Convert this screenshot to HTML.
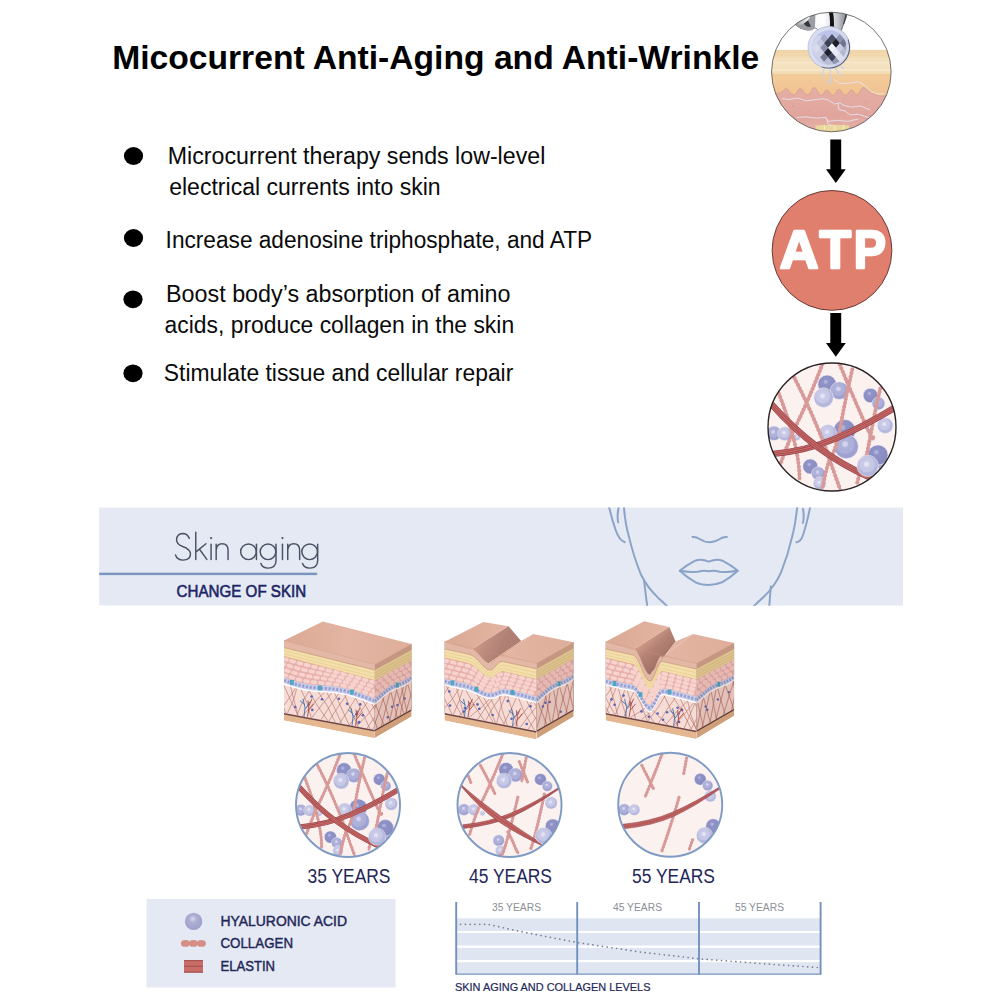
<!DOCTYPE html>
<html>
<head>
<meta charset="utf-8">
<title>Micocurrent Anti-Aging and Anti-Wrinkle</title>
<style>
html,body{margin:0;padding:0;background:#fff;}
body{width:1000px;height:1000px;overflow:hidden;font-family:"Liberation Sans",sans-serif;}
svg{display:block;}
text{font-family:"Liberation Sans",sans-serif;}
</style>
</head>
<body>
<svg width="1000" height="1000" viewBox="0 0 1000 1000">
<rect width="1000" height="1000" fill="#ffffff"/>
<defs>
<radialGradient id="sphL" cx="0.46" cy="0.36" r="0.7"><stop offset="0" stop-color="#d4d6ea"/><stop offset="0.18" stop-color="#c2c4e0"/><stop offset="0.3" stop-color="#adafd4"/><stop offset="1" stop-color="#9b9dc8"/></radialGradient>
<radialGradient id="sD" cx="0.42" cy="0.36" r="0.62"><stop offset="0" stop-color="#b7b9de"/><stop offset="0.18" stop-color="#a3a6d3"/><stop offset="0.2" stop-color="#9093c6"/><stop offset="1" stop-color="#878ac0"/></radialGradient>
<radialGradient id="sM" cx="0.45" cy="0.4" r="0.62"><stop offset="0" stop-color="#dadbf0"/><stop offset="0.2" stop-color="#c6c8e7"/><stop offset="0.23" stop-color="#b0b2da"/><stop offset="0.62" stop-color="#abaed8"/><stop offset="0.66" stop-color="#a0a3d1"/><stop offset="1" stop-color="#9c9fce"/></radialGradient>
<radialGradient id="sL" cx="0.45" cy="0.42" r="0.62"><stop offset="0" stop-color="#e8e9f5"/><stop offset="0.2" stop-color="#dadbf0"/><stop offset="0.23" stop-color="#c9cbe7"/><stop offset="0.6" stop-color="#c4c6e4"/><stop offset="0.64" stop-color="#b6b9de"/><stop offset="1" stop-color="#b1b4db"/></radialGradient>
<clipPath id="cc"><circle cx="500" cy="500" r="457"/></clipPath>
<g id="col35" fill="none" stroke-linecap="round">
<path id="c35" d="M432 50Q340 290 262 450T130 770M232 150Q330 340 405 525T480 720T560 950M120 260Q190 440 230 600T268 880M556 55Q640 260 725 450T792 565M645 88Q600 280 565 470T500 700T430 940M845 225Q810 370 775 560T735 720T680 900"/>
</g>
<clipPath id="c1"><circle cx="495" cy="500" r="460"/></clipPath>
<clipPath id="cball"><circle cx="477" cy="311" r="162"/></clipPath>
<linearGradient id="corn" x1="0" y1="0" x2="0" y2="1"><stop offset="0" stop-color="#f0d3a8"/><stop offset="0.3" stop-color="#f3dcb4"/><stop offset="0.45" stop-color="#f7e8cb"/><stop offset="0.62" stop-color="#f5e1bd"/><stop offset="0.8" stop-color="#f7e9cd"/><stop offset="1" stop-color="#f3dbb0"/></linearGradient>
<linearGradient id="epi" x1="0" y1="0" x2="0" y2="1"><stop offset="0" stop-color="#f3cc9a"/><stop offset="1" stop-color="#f0c08f"/></linearGradient>
<linearGradient id="derm" x1="0" y1="0" x2="0" y2="1"><stop offset="0" stop-color="#e5afa5"/><stop offset="0.6" stop-color="#e1a59e"/><stop offset="1" stop-color="#e8b6ac"/></linearGradient>
<linearGradient id="chrome" x1="0" y1="0" x2="1" y2="0"><stop offset="0" stop-color="#8d9096"/><stop offset="0.25" stop-color="#f4f5f7"/><stop offset="0.55" stop-color="#ffffff"/><stop offset="0.8" stop-color="#c9ccd2"/><stop offset="1" stop-color="#7d8088"/></linearGradient>
<radialGradient id="ballg" cx="0.4" cy="0.45" r="0.65"><stop offset="0" stop-color="#dfe2f3"/><stop offset="0.7" stop-color="#c3c8e6"/><stop offset="1" stop-color="#9ea4c9"/></radialGradient>
<clipPath id="bandclip"><rect x="-2500" y="34" width="5000" height="447"/></clipPath>
<!--DEFS-->
</defs>

<!-- Title -->
<text x="112.2" y="68.5" font-size="33.5" font-weight="bold" fill="#000" textLength="647" lengthAdjust="spacingAndGlyphs">Micocurrent Anti-Aging and Anti-Wrinkle</text>

<!-- Bullets -->
<g fill="#000">
<ellipse cx="133.5" cy="156" rx="9.6" ry="8.9"/>
<ellipse cx="133.5" cy="238" rx="9.6" ry="8.9"/>
<ellipse cx="133" cy="299.3" rx="9.6" ry="8.9"/>
<ellipse cx="133" cy="373.3" rx="9.6" ry="8.9"/>
</g>
<g font-size="23.5" fill="#0a0a0a">
<text x="167.8" y="163.8" textLength="377.5" lengthAdjust="spacingAndGlyphs">Microcurrent therapy sends low-level</text>
<text x="169.2" y="195.3" textLength="271.5" lengthAdjust="spacingAndGlyphs">electrical currents into skin</text>
<text x="165.6" y="247.6" textLength="426.5" lengthAdjust="spacingAndGlyphs">Increase adenosine triphosphate, and ATP</text>
<text x="166" y="302.3" textLength="344.5" lengthAdjust="spacingAndGlyphs">Boost body’s absorption of amino</text>
<text x="164.6" y="332.7" textLength="349.5" lengthAdjust="spacingAndGlyphs">acids, produce collagen in the skin</text>
<text x="163.8" y="380.7" textLength="349.5" lengthAdjust="spacingAndGlyphs">Stimulate tissue and cellular repair</text>
</g>

<!-- Arrows -->
<g fill="#000">
<path d="M830.3 139.5H841.2V169.2H845.8L835.8 182.9L826 169.2H830.3Z"/>
<path d="M830.3 313H841.2V343H845.8L835.8 356.8L826 343H830.3Z"/>
</g>

<!-- ATP circle -->
<circle cx="832" cy="250.4" r="59.9" fill="#e07f6e" stroke="#5a302b" stroke-width="0.9"/>
<g font-size="54.3" font-weight="bold" fill="#fff" stroke="#fff" stroke-width="2.6" stroke-linejoin="round">
<text x="779.8" y="268.1" textLength="38.8" lengthAdjust="spacingAndGlyphs">A</text>
<text x="819.5" y="268.1" textLength="31.6" lengthAdjust="spacingAndGlyphs">T</text>
<text x="853.7" y="268.1" textLength="32.2" lengthAdjust="spacingAndGlyphs">P</text>
</g>

<!-- Circle 1 (roller on skin) -->
<g transform="translate(767 7) scale(0.13)">
<g clip-path="url(#c1)">
<rect x="0" y="0" width="1000" height="1000" fill="#ffffff"/>
<rect x="0" y="330" width="1000" height="190" fill="url(#corn)"/>
<g stroke="#ecd2a3" stroke-width="5" opacity="0.8"><path d="M0 372H1000M0 412H1000M0 470H1000M0 500H1000"/></g>
<rect x="0" y="515" width="1000" height="200" fill="url(#epi)"/>
<path d="M0 690L60 668Q110 665 130 640Q150 612 172 650Q200 700 228 660Q250 600 280 650Q310 705 340 650Q362 585 392 655Q415 705 440 660Q460 615 482 660Q505 705 532 655Q555 610 578 658Q600 702 628 660Q650 615 670 660Q692 700 715 650Q738 595 768 640Q800 665 850 680Q900 700 1000 660V1000H0Z" fill="url(#derm)"/>
<path d="M0 690L60 668Q110 665 130 640Q150 612 172 650Q200 700 228 660Q250 600 280 650Q310 705 340 650Q362 585 392 655Q415 705 440 660Q460 615 482 660Q505 705 532 655Q555 610 578 658Q600 702 628 660Q650 615 670 660Q692 700 715 650Q738 595 768 640Q800 665 850 680Q900 700 1000 660" fill="none" stroke="#d99a8c" stroke-width="6"/>
<g fill="#d4908c" opacity="0.6"><circle cx="200" cy="760" r="7"/><circle cx="330" cy="800" r="6"/><circle cx="520" cy="740" r="7"/><circle cx="640" cy="790" r="6"/><circle cx="760" cy="730" r="7"/><circle cx="420" cy="840" r="6"/><circle cx="270" cy="720" r="5"/><circle cx="700" cy="840" r="6"/></g>
<path d="M372 912Q500 900 632 912L625 1000H380Z" fill="#ebe09c" opacity="0.85"/>
<path d="M440 908L443 945M520 910L522 950M590 906L588 940" stroke="#f5ecc0" stroke-width="8"/>
<g fill="none" stroke="#e4e6f6" stroke-width="7" stroke-linejoin="round" stroke-linecap="round" opacity="0.95">
<path d="M120 705L170 712L235 700L300 722L380 712L430 706L470 715L520 745L560 738L600 760L650 770L720 762L790 790"/>
<path d="M545 745L555 790L600 800L640 830L700 825L780 850"/>
<path d="M230 850L300 845L380 855L450 850L470 880L540 872L620 880L700 862"/>
<path d="M455 850L470 900L500 915"/>
<path d="M520 560L560 590L640 585L700 575L750 600L800 650L850 670L900 665"/>
</g>
<g fill="none" stroke="#c5d0ef" stroke-width="11" stroke-linecap="round" opacity="0.8">
<path d="M445 470L425 505L430 540M488 475L482 515L498 552L492 590M528 472L545 505L572 530M560 455L592 472M474 558L460 592"/>
</g>
<!-- holder -->
<path d="M215 132Q300 70 380 30L620 30Q612 90 590 130Q575 170 572 182L400 186Q380 160 368 160Q345 182 308 178Q250 170 215 132Z" fill="url(#chrome)" stroke="#3c3d42" stroke-width="5"/>
<path d="M215 132Q262 150 300 118Q330 90 345 50L372 45Q372 110 368 160Q345 182 308 178Q250 170 215 132Z" fill="#9a9da4"/>
<path d="M283 126L316 104L338 150Q305 160 283 126Z" fill="#34363c"/>
<path d="M474 30Q492 100 480 186L514 186Q520 100 506 30Z" fill="#121317"/>
<path d="M590 130Q600 90 612 40" fill="none" stroke="#2a2b30" stroke-width="7"/>
<!-- ball -->
<circle cx="477" cy="311" r="162" fill="url(#ballg)"/>
<g clip-path="url(#cball)">
<path d="M370 215L470 178L580 195L620 250L570 222L480 232Z" fill="#b4bdea" opacity="0.7"/>
<path d="M440 207L471 243L440 279L409 243Z" fill="#a7acc6"/><path d="M500 207L531 243L500 279L469 243Z" fill="#4a4e66"/><path d="M560 207L591 243L560 279L529 243Z" fill="#8d92ab"/><path d="M410 243L441 279L410 315L379 279Z" fill="#c5c9df"/><path d="M470 243L501 279L470 315L439 279Z" fill="#3c4055"/><path d="M530 243L561 279L530 315L499 279Z" fill="#1d1f2b"/><path d="M590 243L621 279L590 315L559 279Z" fill="#6f748e"/><path d="M380 279L411 315L380 351L349 315Z" fill="#d9dcee"/><path d="M440 279L471 315L440 351L409 315Z" fill="#8a8fa9"/><path d="M500 279L531 315L500 351L469 315Z" fill="#f2f3fa"/><path d="M560 279L591 315L560 351L529 315Z" fill="#c9cce0"/><path d="M620 279L651 315L620 351L589 315Z" fill="#9fa4be"/><path d="M410 315L441 351L410 387L379 351Z" fill="#cfd2e5"/><path d="M470 315L501 351L470 387L439 351Z" fill="#1f2233"/><path d="M530 315L561 351L530 387L499 351Z" fill="#e8eaf5"/><path d="M590 315L621 351L590 387L559 351Z" fill="#b4b8d0"/><path d="M440 351L471 387L440 423L409 387Z" fill="#777c96"/><path d="M500 351L531 387L500 423L469 387Z" fill="#3f4359"/><path d="M560 351L591 387L560 423L529 387Z" fill="#dcdfee"/><path d="M470 387L501 423L470 459L439 423Z" fill="#b9bdd3"/><path d="M530 387L561 423L530 459L499 423Z" fill="#9096b0"/>
<circle cx="477" cy="311" r="150" fill="none" stroke="#dfe2f3" stroke-width="34" opacity="0.75"/>
<path d="M625 250A162 162 0 0 1 420 462" fill="none" stroke="#34374c" stroke-width="10" opacity="0.85"/>
</g>
<circle cx="477" cy="311" r="162" fill="none" stroke="#9096b8" stroke-width="4" opacity="0.7"/>
</g>
<circle cx="495" cy="500" r="460" fill="none" stroke="#4d4d4d" stroke-width="6"/>
</g>

<!-- Circle 3 (collagen) -->
<g transform="translate(762 357) scale(0.14)"><g clip-path="url(#cc)"><circle cx="500" cy="500" r="457" fill="#fbf2f0"/><circle cx="465" cy="195" r="66" fill="url(#sD)" stroke="#f6f1f6" stroke-width="4"/><circle cx="552" cy="240" r="64" fill="url(#sM)" stroke="#f6f1f6" stroke-width="4"/><circle cx="440" cy="290" r="70" fill="url(#sL)" stroke="#f6f1f6" stroke-width="4"/><circle cx="775" cy="275" r="52" fill="url(#sD)" stroke="#f6f1f6" stroke-width="4"/><circle cx="832" cy="332" r="46" fill="url(#sM)" stroke="#f6f1f6" stroke-width="4"/><circle cx="880" cy="490" r="56" fill="url(#sL)" stroke="#f6f1f6" stroke-width="4"/><circle cx="85" cy="545" r="52" fill="url(#sM)" stroke="#f6f1f6" stroke-width="4"/><circle cx="162" cy="548" r="50" fill="url(#sL)" stroke="#f6f1f6" stroke-width="4"/><circle cx="250" cy="572" r="24" fill="url(#sL)" stroke="#f6f1f6" stroke-width="4"/><circle cx="590" cy="525" r="78" fill="url(#sD)" stroke="#f6f1f6" stroke-width="4"/><circle cx="470" cy="545" r="62" fill="url(#sL)" stroke="#f6f1f6" stroke-width="4"/><circle cx="602" cy="640" r="86" fill="url(#sM)" stroke="#f6f1f6" stroke-width="4"/><circle cx="870" cy="765" r="50" fill="url(#sM)" stroke="#f6f1f6" stroke-width="4"/><circle cx="828" cy="700" r="72" fill="url(#sD)" stroke="#f6f1f6" stroke-width="4"/><circle cx="345" cy="782" r="54" fill="url(#sD)" stroke="#f6f1f6" stroke-width="4"/><circle cx="402" cy="832" r="48" fill="url(#sM)" stroke="#f6f1f6" stroke-width="4"/><circle cx="412" cy="902" r="46" fill="url(#sL)" stroke="#f6f1f6" stroke-width="4"/><path d="M432 50Q340 290 262 450T130 770M232 150Q330 340 405 525T480 720T560 950M120 260Q190 440 230 600T268 880M556 55Q640 260 725 450T792 565M645 88Q600 280 565 470T500 700T430 940M845 225Q810 370 775 560T735 720T680 900" fill="none" stroke="#d89a99" stroke-width="19"/><path d="M432 50Q340 290 262 450T130 770M232 150Q330 340 405 525T480 720T560 950M120 260Q190 440 230 600T268 880M556 55Q640 260 725 450T792 565M645 88Q600 280 565 470T500 700T430 940M845 225Q810 370 775 560T735 720T680 900" fill="none" stroke="#d89a99" stroke-width="29" stroke-linecap="round" stroke-dasharray="0.1 27"/><path d="M80 692Q320 670 520 585T960 355" fill="none" stroke="#8e3c46" stroke-width="46.0"/><path d="M80 692Q320 670 520 585T960 355" fill="none" stroke="#c26461" stroke-width="38.0"/><path d="M80 692Q320 670 520 585T960 355" fill="none" stroke="#96434a" stroke-width="16.0"/><path d="M80 692Q320 670 520 585T960 355" fill="none" stroke="#c96c67" stroke-width="9.0"/><path d="M60 330Q230 520 400 645T780 865" fill="none" stroke="#8e3c46" stroke-width="46.0"/><path d="M60 330Q230 520 400 645T780 865" fill="none" stroke="#c26461" stroke-width="38.0"/><path d="M60 330Q230 520 400 645T780 865" fill="none" stroke="#96434a" stroke-width="16.0"/><path d="M60 330Q230 520 400 645T780 865" fill="none" stroke="#c96c67" stroke-width="9.0"/><circle cx="755" cy="778" r="76" fill="url(#sL)" stroke="#f6f1f6" stroke-width="4"/></g><circle cx="500" cy="500" r="457" fill="none" stroke="#2a2326" stroke-width="10"/></g>


<!-- Band -->
<rect x="99.2" y="507.5" width="803.8" height="98" fill="#e4e9f3"/>
<!-- Face outline -->
<g transform="translate(590 500) scale(0.22)" fill="none" stroke="#8ba3c7" stroke-width="9" stroke-linecap="round" stroke-linejoin="round" clip-path="url(#bandclip)">
<path d="M86 30Q100 90 118 140Q132 182 158 192"/>
<path d="M130 36Q122 70 128 102"/>
<path d="M154 30Q160 110 178 170Q196 250 232 340Q262 400 310 445Q330 462 350 482"/>
<path d="M246 368Q252 420 260 482"/>
<path d="M942 30Q934 110 918 170Q900 250 868 330Q838 395 790 440Q768 460 745 482"/>
<path d="M1000 36Q985 110 968 160Q958 190 938 192"/>
<path d="M968 40Q975 70 968 104"/>
<path d="M822 392Q818 440 815 482"/>
<path d="M466 168Q482 166 496 176Q520 192 546 192Q572 190 592 176Q606 166 622 168"/>
<path d="M408 322Q440 296 478 276Q505 266 540 280Q575 266 602 276Q640 296 672 322Q640 352 600 374Q570 386 540 386Q505 386 480 374Q440 352 408 322Z"/>
<path d="M410 322Q450 330 490 326Q520 318 540 324Q562 318 590 326Q630 330 670 322"/>
</g>

<!-- "Skin aging" thin lettering -->
<g transform="translate(165 520) scale(0.17)" fill="none" stroke="#4a5266" stroke-width="8.6" stroke-linecap="round" stroke-linejoin="round">
<path d="M143 108Q132 80 103 80Q70 82 68 116Q68 142 104 156Q148 172 150 198Q150 234 106 236Q70 234 62 206"/>
<path d="M181 72V232M241 140L184 186M203 172L246 232"/>
<path d="M271 142V232"/>
<path d="M301 142V232M301 178Q304 140 336 140Q371 140 371 178V232"/>
<circle cx="491" cy="187" r="46"/><path d="M538 142V232"/>
<circle cx="606" cy="187" r="46"/><path d="M653 142V240Q652 282 606 283Q572 282 564 256"/>
<path d="M691 142V232"/>
<path d="M722 142V232M722 178Q725 140 757 140Q792 140 792 178V232"/>
<circle cx="851" cy="187" r="46"/><path d="M898 142V240Q897 282 851 283Q817 282 809 256"/>
<g fill="#4d5567" stroke="none"><circle cx="271" cy="106" r="6.5"/><circle cx="691" cy="106" r="6.5"/></g>
</g>

<rect x="99.2" y="572.7" width="218" height="2.4" fill="#7a95bf"/>
<text x="176.6" y="597.2" font-size="17.2" fill="#1c2466" stroke="#1c2466" stroke-width="0.6" textLength="129.6" lengthAdjust="spacingAndGlyphs">CHANGE OF SKIN</text>

<!--BLOCKS_START--><!-- Skin blocks -->
<g id="b1"><clipPath id="clipD1"><path d="M284 684.5L286 685.2L288 685.9L290 686.6L292 687.3L294 687.9L296 688.5L298 689L300 689.5L302 690L304 690.4L306 690.7L308 691L310 691.3L312 691.6L314 691.8L316 691.9L318 692.1L320 692.2L322 692.3L324 692.5L326 692.6L328 692.7L330 692.9L332 693L334 693.2L336 693.5L338 693.8L340 694.1L342 694.4L344 694.8L346 695.3L348 695.8L350 696.3L352 696.9L354 697.5L356 698.2L358 698.8L360 699.6L362 700.3L364 701L366 701.8L368 702.6L370 703.3L372 704.1L374 704.8L374.8 705.1L374.8 730L284 712.9Z" fill="#000" /></clipPath>
<clipPath id="clipF1"><path d="M284 640.4L286 640.9L288 641.5L290 642L292 642.5L294 643L296 643.6L298 644.1L300 644.6L302 645.2L304 645.7L306 646.2L308 646.7L310 647.3L312 647.8L314 648.3L316 648.9L318 649.4L320 649.9L322 650.4L324 651L326 651.5L328 652L330 652.6L332 653.1L334 653.6L336 654.1L338 654.7L340 655.2L342 655.7L344 656.3L346 656.8L348 657.3L350 657.8L352 658.4L354 658.9L356 659.4L358 660L360 660.5L362 661L364 661.5L366 662.1L368 662.6L370 663.1L372 663.7L374 664.2L374.8 664.4L374.8 738.3L284 720.4Z" fill="#000" /></clipPath>
<g clip-path="url(#clipF1)">
<path d="M284 640.4L374.8 664.4L374.8 738.3L284 720.4Z" fill="#e4b791" />
<path d="M284 600.4L374.8 600.4L374.8 731.5L284 714.4Z" fill="#6d4545" />
<path d="M284 600.4L374.8 600.4L374.8 730L284 712.9Z" fill="#f5dcd7" />
<path d="M284 600.4L374.8 600.4L374.8 705.1L374 704.8L372 704.1L370 703.3L368 702.6L366 701.8L364 701L362 700.3L360 699.6L358 698.8L356 698.2L354 697.5L352 696.9L350 696.3L348 695.8L346 695.3L344 694.8L342 694.4L340 694.1L338 693.8L336 693.5L334 693.2L332 693L330 692.9L328 692.7L326 692.6L324 692.5L322 692.3L320 692.2L318 692.1L316 691.9L314 691.8L312 691.6L310 691.3L308 691L306 690.7L304 690.4L302 690L300 689.5L298 689L296 688.5L294 687.9L292 687.3L290 686.6L288 685.9L286 685.2L284 684.5Z" fill="#ffffff" />
<path d="M284 600.4L374.8 600.4L374.8 703.7L374 703.4L372 702.7L370 701.9L368 701.2L366 700.4L364 699.6L362 698.9L360 698.2L358 697.4L356 696.8L354 696.1L352 695.5L350 694.9L348 694.4L346 693.9L344 693.4L342 693L340 692.7L338 692.4L336 692.1L334 691.8L332 691.6L330 691.5L328 691.3L326 691.2L324 691.1L322 690.9L320 690.8L318 690.7L316 690.5L314 690.4L312 690.2L310 689.9L308 689.6L306 689.3L304 689L302 688.6L300 688.1L298 687.6L296 687.1L294 686.5L292 685.9L290 685.2L288 684.5L286 683.8L284 683.1Z" fill="#c9cfea" />
<path d="M284 600.4L374.8 600.4L374.8 698.2L374 697.9L372 697.2L370 696.4L368 695.7L366 694.9L364 694.1L362 693.4L360 692.7L358 691.9L356 691.3L354 690.6L352 690L350 689.4L348 688.9L346 688.4L344 687.9L342 687.5L340 687.2L338 686.9L336 686.6L334 686.3L332 686.1L330 686L328 685.8L326 685.7L324 685.6L322 685.4L320 685.3L318 685.2L316 685L314 684.9L312 684.7L310 684.4L308 684.1L306 683.8L304 683.5L302 683.1L300 682.6L298 682.1L296 681.6L294 681L292 680.4L290 679.7L288 679L286 678.3L284 677.6Z" fill="#e8b0ad" />
<path d="M284 600.4L374.8 600.4L374.8 680.4L374 680.2L372 679.7L370 679.1L368 678.6L366 678.1L364 677.5L362 677L360 676.5L358 676L356 675.4L354 674.9L352 674.4L350 673.8L348 673.3L346 672.8L344 672.3L342 671.7L340 671.2L338 670.7L336 670.1L334 669.6L332 669.1L330 668.6L328 668L326 667.5L324 667L322 666.4L320 665.9L318 665.4L316 664.9L314 664.3L312 663.8L310 663.3L308 662.7L306 662.2L304 661.7L302 661.2L300 660.6L298 660.1L296 659.6L294 659L292 658.5L290 658L288 657.5L286 656.9L284 656.4Z" fill="#f3dfab" />
<path d="M284 600.4L374.8 600.4L374.8 670L374 669.8L372 669.3L370 668.8L368 668.3L366 667.8L364 667.3L362 666.8L360 666.3L358 665.9L356 665.4L354 664.9L352 664.4L350 663.9L348 663.4L346 662.9L344 662.4L342 661.9L340 661.4L338 660.9L336 660.4L334 659.9L332 659.4L330 658.9L328 658.5L326 658L324 657.5L322 657L320 656.5L318 656L316 655.5L314 655L312 654.5L310 654L308 653.5L306 653L304 652.5L302 652L300 651.5L298 651.1L296 650.6L294 650.1L292 649.6L290 649.1L288 648.6L286 648.1L284 647.6Z" fill="#e4b8a6" />
<path d="M284 647.6L286 648.1L288 648.6L290 649.1L292 649.6L294 650.1L296 650.6L298 651.1L300 651.5L302 652L304 652.5L306 653L308 653.5L310 654L312 654.5L314 655L316 655.5L318 656L320 656.5L322 657L324 657.5L326 658L328 658.5L330 658.9L332 659.4L334 659.9L336 660.4L338 660.9L340 661.4L342 661.9L344 662.4L346 662.9L348 663.4L350 663.9L352 664.4L354 664.9L356 665.4L358 665.9L360 666.3L362 666.8L364 667.3L366 667.8L368 668.3L370 668.8L372 669.3L374 669.8L374.8 670" fill="none" stroke="#c08c70" stroke-width="0.6" />
<path d="M284 650.7L286 651.2L288 651.7L290 652.2L292 652.7L294 653.2L296 653.7L298 654.2L300 654.7L302 655.2L304 655.7L306 656.2L308 656.7L310 657.3L312 657.8L314 658.3L316 658.8L318 659.3L320 659.8L322 660.3L324 660.8L326 661.3L328 661.8L330 662.3L332 662.8L334 663.3L336 663.8L338 664.3L340 664.8L342 665.3L344 665.9L346 666.4L348 666.9L350 667.4L352 667.9L354 668.4L356 668.9L358 669.4L360 669.9L362 670.4L364 670.9L366 671.4L368 671.9L370 672.4L372 672.9L374 673.4L374.8 673.6" fill="none" stroke="#e2c385" stroke-width="0.5" />
<path d="M284 653.8L286 654.3L288 654.8L290 655.3L292 655.8L294 656.4L296 656.9L298 657.4L300 657.9L302 658.4L304 658.9L306 659.5L308 660L310 660.5L312 661L314 661.5L316 662L318 662.6L320 663.1L322 663.6L324 664.1L326 664.6L328 665.2L330 665.7L332 666.2L334 666.7L336 667.2L338 667.7L340 668.3L342 668.8L344 669.3L346 669.8L348 670.3L350 670.9L352 671.4L354 671.9L356 672.4L358 672.9L360 673.4L362 674L364 674.5L366 675L368 675.5L370 676L372 676.6L374 677.1L374.8 677.3" fill="none" stroke="#e2c385" stroke-width="0.5" />
<path d="M284 656.4L286 656.9L288 657.5L290 658L292 658.5L294 659L296 659.6L298 660.1L300 660.6L302 661.2L304 661.7L306 662.2L308 662.7L310 663.3L312 663.8L314 664.3L316 664.9L318 665.4L320 665.9L322 666.4L324 667L326 667.5L328 668L330 668.6L332 669.1L334 669.6L336 670.1L338 670.7L340 671.2L342 671.7L344 672.3L346 672.8L348 673.3L350 673.8L352 674.4L354 674.9L356 675.4L358 676L360 676.5L362 677L364 677.5L366 678.1L368 678.6L370 679.1L372 679.7L374 680.2L374.8 680.4" fill="none" stroke="#d9a070" stroke-width="0.5" />
<path d="M284 659L286 659.6L288 660.2L290 660.7L292 661.2L294 661.8L296 662.3L298 662.9L300 663.4L302 663.9L304 664.4L306 664.9L308 665.4L310 665.9L312 666.4L314 666.9L316 667.4L318 667.9L320 668.3L322 668.8L324 669.3L326 669.8L328 670.3L330 670.7L332 671.2L334 671.7L336 672.2L338 672.7L340 673.2L342 673.7L344 674.2L346 674.7L348 675.3L350 675.8L352 676.3L354 676.9L356 677.4L358 678L360 678.5L362 679.1L364 679.6L366 680.2L368 680.7L370 681.3L372 681.8L374 682.4L374.8 682.6" fill="none" stroke="#f7d3ce" stroke-width="3.7" stroke-linecap="round" stroke-dasharray="2.9 4.6" stroke-dashoffset="0"/>
<path d="M284 664.3L286 664.9L288 665.5L290 666.1L292 666.7L294 667.3L296 667.8L298 668.4L300 668.9L302 669.4L304 669.9L306 670.3L308 670.8L310 671.2L312 671.6L314 672L316 672.4L318 672.8L320 673.2L322 673.6L324 673.9L326 674.3L328 674.7L330 675.1L332 675.5L334 675.9L336 676.3L338 676.7L340 677.2L342 677.7L344 678.1L346 678.6L348 679.1L350 679.7L352 680.2L354 680.8L356 681.4L358 682L360 682.6L362 683.2L364 683.8L366 684.4L368 685L370 685.6L372 686.2L374 686.8L374.8 687.1" fill="none" stroke="#f7d3ce" stroke-width="3.7" stroke-linecap="round" stroke-dasharray="2.9 4.6" stroke-dashoffset="2.7"/>
<path d="M284 669.6L286 670.3L288 670.9L290 671.6L292 672.2L294 672.8L296 673.3L298 673.9L300 674.4L302 674.8L304 675.3L306 675.7L308 676.1L310 676.5L312 676.8L314 677.2L316 677.5L318 677.8L320 678L322 678.3L324 678.6L326 678.9L328 679.2L330 679.4L332 679.8L334 680.1L336 680.4L338 680.8L340 681.2L342 681.6L344 682L346 682.5L348 683L350 683.6L352 684.1L354 684.7L356 685.3L358 686L360 686.6L362 687.3L364 687.9L366 688.6L368 689.3L370 689.9L372 690.6L374 691.2L374.8 691.5" fill="none" stroke="#f7d3ce" stroke-width="3.7" stroke-linecap="round" stroke-dasharray="2.9 4.6" stroke-dashoffset="5.4"/>
<path d="M284 674.9L286 675.6L288 676.3L290 677L292 677.6L294 678.2L296 678.8L298 679.4L300 679.9L302 680.3L304 680.7L306 681.1L308 681.5L310 681.8L312 682L314 682.3L316 682.5L318 682.7L320 682.9L322 683.1L324 683.2L326 683.4L328 683.6L330 683.8L332 684L334 684.3L336 684.5L338 684.8L340 685.2L342 685.5L344 686L346 686.4L348 686.9L350 687.5L352 688L354 688.6L356 689.3L358 689.9L360 690.6L362 691.3L364 692.1L366 692.8L368 693.5L370 694.3L372 695L374 695.7L374.8 695.9" fill="none" stroke="#f7d3ce" stroke-width="3.7" stroke-linecap="round" stroke-dasharray="2.9 4.6" stroke-dashoffset="8.1"/>
<path d="M284 680.3L286 681L288 681.8L290 682.4L292 683.1L294 683.7L296 684.3L298 684.9L300 685.4L302 685.8L304 686.2L306 686.6L308 686.9L310 687.2L312 687.4L314 687.6L316 687.8L318 687.9L320 688.1L322 688.2L324 688.3L326 688.4L328 688.6L330 688.7L332 688.9L334 689.1L336 689.3L338 689.6L340 689.9L342 690.3L344 690.7L346 691.1L348 691.6L350 692.1L352 692.7L354 693.3L356 694L358 694.7L360 695.4L362 696.1L364 696.9L366 697.7L368 698.4L370 699.2L372 699.9L374 700.6L374.8 700.9" fill="none" stroke="#989ed0" stroke-width="3" stroke-dasharray="2.2 1.6"/>
<rect x="290" y="679.9" width="3.8" height="5" fill="#4fa6c2"/>
<rect x="318" y="685.4" width="3.8" height="5" fill="#4fa6c2"/>
<rect x="350" y="689.6" width="3.8" height="5" fill="#4fa6c2"/>
<path d="M264 682.5Q270.7 697.7 274.9 712.9M273.8 682.5Q269.5 697.7 260.7 712.9M273.2 682.5Q280.7 697.7 285.6 712.9M284.4 682.5Q279.4 697.7 269.4 712.9M282.6 682.5Q289.7 699 298.1 715.5M296.6 686.5Q289.1 699.7 277.9 712.9M289.9 683.9Q293.6 699.7 298 715.5M297.2 686.5Q294.9 699.9 287.4 713.3M300.2 687.5Q308 702.7 311.3 717.8M310.2 689.3Q301.1 702.2 296.9 715.2M308.1 689Q315.9 705.1 328.1 721.2M326.1 690.6Q312.4 703.4 302.2 716.3M317 689.9Q328.8 706.1 335.1 722.3M333.3 691Q322.1 704.4 311.6 717.8M325.9 690.5Q334.5 707 341.6 723.5M340 692.1Q329.4 705.9 321.2 719.7M333.5 691Q341.4 708 349.1 725M347.6 693.3Q337.5 707.2 328.8 721.2M344 692.8Q350.2 709.8 358.3 726.8M356.9 696.2Q348.8 709.6 339.7 723.1M354 694.9Q362.5 712 370 729.1M368.4 700.6Q361.2 712.8 349.2 725M361.2 697.6Q370.9 713.8 378.3 730M376.6 703.1Q368.9 714.8 356.1 726.5M370.6 701.3Q378.5 715.7 382.2 730M381 703.1Q377 715.7 367.1 728.4M377.7 703.1Q387.9 716.5 396.1 730M394.3 703.1Q381.2 716.3 372.2 729.5" fill="none" stroke="#b56f62" stroke-width="0.6" clip-path="url(#clipD1)"/>
<circle cx="359.3" cy="722.1" r="1.3" fill="#5a62b4"/>
<circle cx="362.9" cy="715.3" r="1.3" fill="#5a62b4"/>
<circle cx="347.1" cy="703.8" r="1.3" fill="#5a62b4"/>
<circle cx="356.9" cy="713.8" r="1.3" fill="#5a62b4"/>
<circle cx="311.6" cy="696.5" r="1.3" fill="#5a62b4"/>
<circle cx="358.7" cy="722.6" r="1.3" fill="#5a62b4"/>
<circle cx="295.3" cy="707" r="1.3" fill="#5a62b4"/>
<circle cx="322" cy="699.2" r="1.3" fill="#5a62b4"/>
<circle cx="312.3" cy="709.9" r="1.3" fill="#5a62b4"/>
<circle cx="360.3" cy="704.4" r="1.3" fill="#5a62b4"/>
<circle cx="338.9" cy="698.7" r="1.3" fill="#5a62b4"/>
<path d="M304 716.7Q306.5 707.7 303 698.7M305.5 708.7L310 701.7M304.8 704.7L300 700.7" fill="none" stroke="#3f6fb0" stroke-width="0.9"/>
<path d="M307.5 716.7Q310 708.7 308 700.7M309 709.7L314 703.7M309 705.7L312 698.7" fill="none" stroke="#a8443c" stroke-width="0.9"/>
<path d="M352 725.7Q354.5 716.7 351 707.7M353.5 717.7L358 710.7M352.8 713.7L348 709.7" fill="none" stroke="#3f6fb0" stroke-width="0.9"/>
<path d="M355.5 725.7Q358 717.7 356 709.7M357 718.7L362 712.7M357 714.7L360 707.7" fill="none" stroke="#a8443c" stroke-width="0.9"/>
</g>
<clipPath id="clipR1"><path d="M374.8 664.4L411.6 644L411.6 716.4L374.8 738Z" fill="#000" /></clipPath>
<clipPath id="clipDR1"><path d="M374.8 705.1L376.8 703.4L378.8 701.6L380.8 699.8L382.8 698L384.8 696.3L386.8 694.7L388.8 693.2L390.8 692L392.8 690.9L394.8 690L396.8 689.2L398.8 688.4L400.8 687.7L402.8 686.9L404.8 685.9L406.8 684.8L408.8 683.6L410.8 682.1L411.6 681.5L411.6 709.3L374.8 729.7Z" fill="#000" /></clipPath>
<g clip-path="url(#clipR1)">
<path d="M374.8 664.4L411.6 644L411.6 716.4L374.8 738Z" fill="#d9a981" />
<path d="M374.8 604L411.6 604L411.6 710.8L374.8 731.2Z" fill="#5e3b3b" />
<path d="M374.8 604L411.6 604L411.6 709.3L374.8 729.7Z" fill="#efcfc8" />
<path d="M374.8 604L411.6 604L411.6 681.5L410.8 682.1L408.8 683.6L406.8 684.8L404.8 685.9L402.8 686.9L400.8 687.7L398.8 688.4L396.8 689.2L394.8 690L392.8 690.9L390.8 692L388.8 693.2L386.8 694.7L384.8 696.3L382.8 698L380.8 699.8L378.8 701.6L376.8 703.4L374.8 705.1Z" fill="#fbf6f6" />
<path d="M374.8 604L411.6 604L411.6 680.3L410.8 680.9L408.8 682.4L406.8 683.6L404.8 684.7L402.8 685.6L400.8 686.4L398.8 687.2L396.8 687.9L394.8 688.7L392.8 689.6L390.8 690.7L388.8 691.9L386.8 693.3L384.8 694.9L382.8 696.7L380.8 698.5L378.8 700.3L376.8 702L374.8 703.7Z" fill="#c2c8e6" />
<path d="M374.8 604L411.6 604L411.6 675.3L410.8 675.9L408.8 677.3L406.8 678.6L404.8 679.6L402.8 680.5L400.8 681.3L398.8 682L396.8 682.7L394.8 683.5L392.8 684.3L390.8 685.4L388.8 686.6L386.8 688L384.8 689.6L382.8 691.3L380.8 693L378.8 694.8L376.8 696.6L374.8 698.2Z" fill="#e2a8a5" />
<path d="M374.8 604L411.6 604L411.6 660.5L374.8 680.4Z" fill="#e8d09a" />
<path d="M374.8 604L411.6 604L411.6 650L374.8 670Z" fill="#cfa08a" />
<path d="M374.8 673.1L411.6 653.1" fill="none" stroke="#d2b070" stroke-width="0.5" />
<path d="M374.8 675.7L411.6 655.8" fill="none" stroke="#d2b070" stroke-width="0.5" />
<path d="M374.8 678.3L411.6 658.4" fill="none" stroke="#d2b070" stroke-width="0.5" />
<path d="M374.8 683.4L376.8 682.2L378.8 681L380.8 679.8L382.8 678.6L384.8 677.4L386.8 676.3L388.8 675.1L390.8 674L392.8 672.9L394.8 671.9L396.8 670.9L398.8 669.8L400.8 668.8L402.8 667.8L404.8 666.7L406.8 665.7L408.8 664.6L410.8 663.4L411.6 663" fill="none" stroke="#f2c6c1" stroke-width="4.1" stroke-linecap="round" stroke-dasharray="1.1 5" stroke-dashoffset="0"/>
<path d="M374.8 689.3L376.8 687.9L378.8 686.5L380.8 685.1L382.8 683.7L384.8 682.3L386.8 681L388.8 679.7L390.8 678.6L392.8 677.5L394.8 676.5L396.8 675.6L398.8 674.7L400.8 673.8L402.8 672.9L404.8 671.9L406.8 670.8L408.8 669.7L410.8 668.4L411.6 667.9" fill="none" stroke="#f2c6c1" stroke-width="4.1" stroke-linecap="round" stroke-dasharray="1.1 5" stroke-dashoffset="2.1"/>
<path d="M374.8 695.2L376.8 693.7L378.8 692.1L380.8 690.4L382.8 688.7L384.8 687.1L386.8 685.7L388.8 684.3L390.8 683.1L392.8 682.1L394.8 681.1L396.8 680.3L398.8 679.6L400.8 678.8L402.8 678L404.8 677L406.8 676L408.8 674.8L410.8 673.4L411.6 672.8" fill="none" stroke="#f2c6c1" stroke-width="4.1" stroke-linecap="round" stroke-dasharray="1.1 5" stroke-dashoffset="4.2"/>
<path d="M374.8 700.9L376.8 699.3L378.8 697.5L380.8 695.7L382.8 694L384.8 692.3L386.8 690.7L388.8 689.3L390.8 688L392.8 687L394.8 686.1L396.8 685.3L398.8 684.6L400.8 683.9L402.8 683.1L404.8 682.2L406.8 681.1L408.8 679.8L410.8 678.4L411.6 677.8" fill="none" stroke="#9096c8" stroke-width="2.8" stroke-dasharray="1.7 1.3"/>
<rect x="395.8" y="682.7" width="3" height="4.8" fill="#4a9dba"/>
<path d="M368.8 703.1L377.4 728.6M377.4 701.4L367.1 729.7M374.8 703.1L384.2 725.3M384.2 696L372.9 729.7M382.7 697.8L390.3 721.9M390.3 691.2L381.2 726.4M390.7 691.2L397.3 717.5M397.3 687.2L389.4 721.9M396 688L404 714.2M404 684.9L394.4 719.7M401.1 685.7L407 712M407 682.8L399.9 716.4M407.3 682.8L415.3 709.3M415.3 679.5L405.7 713.1M412.7 680.1L418 709.3M418 679.5L411.7 709.7" fill="none" stroke="#a8584f" stroke-width="0.6" clip-path="url(#clipDR1)"/>
<circle cx="387.8" cy="717.3" r="1.2" fill="#5a62b4"/>
<circle cx="404.6" cy="698.4" r="1.2" fill="#5a62b4"/>
<circle cx="392.1" cy="706.8" r="1.2" fill="#5a62b4"/>
<circle cx="397.3" cy="705.1" r="1.2" fill="#5a62b4"/>
<path d="M374.8 664.4L411.6 644L411.6 716.4L374.8 738Z" fill="#7a4a30" opacity="0.10"/>
</g>
<linearGradient id="top1" gradientUnits="userSpaceOnUse" x1="284" y1="640.4" x2="411.6" y2="644"><stop offset="0" stop-color="#dba995"/><stop offset="0.5" stop-color="#e3b5a2"/><stop offset="1" stop-color="#deae9a"/></linearGradient>
<path d="M284 640.4L322.8 621.5L411.6 644L374.8 664.4Z" fill="url(#top1)" />
<path d="M284 640.4L374.8 664.4L411.6 644" fill="none" stroke="#c9937c" stroke-width="0.5" opacity="0.7"/></g>
<g id="b2"><clipPath id="clipD2"><path d="M444.5 685.5L446.5 686.1L448.5 686.6L450.5 687.1L452.5 687.6L454.5 688L456.5 688.5L458.5 688.9L460.5 689.3L462.5 689.7L464.5 690.1L466.5 690.6L468.5 691.1L470.5 691.8L472.5 692.6L474.5 693.5L476.5 694.4L478.5 695.3L480.5 696.3L482.5 697.1L484.5 697.9L486.5 698.5L488.5 698.9L490.5 699.2L492.5 699L494.5 698.4L496.5 697.7L498.5 696.8L500.5 696.1L502.5 695.7L504.5 695.6L506.5 695.9L508.5 696.3L510.5 696.7L512.5 697.1L514.5 697.6L516.5 698.1L518.5 698.6L520.5 699.1L522.5 699.6L524.5 700.1L526.5 700.7L528.5 701.2L530.5 701.7L532.5 702.3L534.5 702.8L536.5 703.3L536.6 703.3L536.6 731.2L444.5 712.9Z" fill="#000" /></clipPath>
<clipPath id="clipF2"><path d="M444.5 641.8L446.5 642.3L448.5 642.7L450.5 643.2L452.5 643.7L454.5 644.1L456.5 644.6L458.5 645.1L460.5 645.5L462.5 646L464.5 646.5L466.5 646.9L468.5 647.4L470.5 648L472.5 649L474.5 650.4L476.5 652.2L478.5 654.2L480.5 656.5L482.5 658.7L484.5 660.7L486.5 662.3L488.5 663.5L490.5 663.9L492.5 663.1L494.5 661.2L496.5 658.9L498.5 656.8L500.5 655.6L502.5 655.4L504.5 655.8L506.5 656.3L508.5 656.7L510.5 657.2L512.5 657.7L514.5 658.1L516.5 658.6L518.5 659.1L520.5 659.5L522.5 660L524.5 660.5L526.5 660.9L528.5 661.4L530.5 661.9L532.5 662.3L534.5 662.8L536.5 663.3L536.6 663.3L536.6 739.5L444.5 720.4Z" fill="#000" /></clipPath>
<g clip-path="url(#clipF2)">
<path d="M444.5 641.8L536.6 663.3L536.6 739.5L444.5 720.4Z" fill="#e4b791" />
<path d="M444.5 601.8L536.6 601.8L536.6 732.7L444.5 714.4Z" fill="#6d4545" />
<path d="M444.5 601.8L536.6 601.8L536.6 731.2L444.5 712.9Z" fill="#f5dcd7" />
<path d="M444.5 601.8L536.6 601.8L536.6 703.3L536.5 703.3L534.5 702.8L532.5 702.3L530.5 701.7L528.5 701.2L526.5 700.7L524.5 700.1L522.5 699.6L520.5 699.1L518.5 698.6L516.5 698.1L514.5 697.6L512.5 697.1L510.5 696.7L508.5 696.3L506.5 695.9L504.5 695.6L502.5 695.7L500.5 696.1L498.5 696.8L496.5 697.7L494.5 698.4L492.5 699L490.5 699.2L488.5 698.9L486.5 698.5L484.5 697.9L482.5 697.1L480.5 696.3L478.5 695.3L476.5 694.4L474.5 693.5L472.5 692.6L470.5 691.8L468.5 691.1L466.5 690.6L464.5 690.1L462.5 689.7L460.5 689.3L458.5 688.9L456.5 688.5L454.5 688L452.5 687.6L450.5 687.1L448.5 686.6L446.5 686.1L444.5 685.5Z" fill="#ffffff" />
<path d="M444.5 601.8L536.6 601.8L536.6 701.9L536.5 701.9L534.5 701.4L532.5 700.9L530.5 700.3L528.5 699.8L526.5 699.3L524.5 698.7L522.5 698.2L520.5 697.7L518.5 697.2L516.5 696.7L514.5 696.2L512.5 695.7L510.5 695.3L508.5 694.9L506.5 694.5L504.5 694.2L502.5 694.3L500.5 694.7L498.5 695.4L496.5 696.3L494.5 697L492.5 697.6L490.5 697.8L488.5 697.5L486.5 697.1L484.5 696.5L482.5 695.7L480.5 694.9L478.5 693.9L476.5 693L474.5 692.1L472.5 691.2L470.5 690.4L468.5 689.7L466.5 689.2L464.5 688.7L462.5 688.3L460.5 687.9L458.5 687.5L456.5 687.1L454.5 686.6L452.5 686.2L450.5 685.7L448.5 685.2L446.5 684.7L444.5 684.1Z" fill="#c9cfea" />
<path d="M444.5 601.8L536.6 601.8L536.6 696.4L536.5 696.4L534.5 695.9L532.5 695.4L530.5 694.8L528.5 694.3L526.5 693.8L524.5 693.2L522.5 692.7L520.5 692.2L518.5 691.7L516.5 691.2L514.5 690.7L512.5 690.2L510.5 689.8L508.5 689.4L506.5 689L504.5 688.7L502.5 688.8L500.5 689.3L498.5 690.1L496.5 691L494.5 691.9L492.5 692.6L490.5 692.8L488.5 692.6L486.5 692.1L484.5 691.5L482.5 690.6L480.5 689.7L478.5 688.7L476.5 687.6L474.5 686.6L472.5 685.7L470.5 684.9L468.5 684.2L466.5 683.6L464.5 683.2L462.5 682.8L460.5 682.4L458.5 682L456.5 681.6L454.5 681.1L452.5 680.7L450.5 680.2L448.5 679.7L446.5 679.2L444.5 678.6Z" fill="#e8b0ad" />
<path d="M444.5 601.8L536.6 601.8L536.6 679.3L536.5 679.3L534.5 678.8L532.5 678.3L530.5 677.9L528.5 677.4L526.5 676.9L524.5 676.5L522.5 676L520.5 675.5L518.5 675.1L516.5 674.6L514.5 674.1L512.5 673.7L510.5 673.2L508.5 672.7L506.5 672.3L504.5 671.8L502.5 671.6L500.5 672L498.5 673.1L496.5 674.6L494.5 676.1L492.5 677.3L490.5 677.7L488.5 677.2L486.5 676.3L484.5 675L482.5 673.5L480.5 671.8L478.5 670L476.5 668.3L474.5 666.8L472.5 665.4L470.5 664.3L468.5 663.5L466.5 662.9L464.5 662.5L462.5 662L460.5 661.5L458.5 661.1L456.5 660.6L454.5 660.1L452.5 659.7L450.5 659.2L448.5 658.7L446.5 658.3L444.5 657.8Z" fill="#f3dfab" />
<path d="M444.5 601.8L536.6 601.8L536.6 668.9L536.5 668.9L534.5 668.4L532.5 668L530.5 667.6L528.5 667.1L526.5 666.7L524.5 666.3L522.5 665.9L520.5 665.4L518.5 665L516.5 664.6L514.5 664.1L512.5 663.7L510.5 663.3L508.5 662.8L506.5 662.4L504.5 662L502.5 661.6L500.5 661.9L498.5 663.1L496.5 665.2L494.5 667.5L492.5 669.5L490.5 670.3L488.5 669.9L486.5 668.8L484.5 667.2L482.5 665.2L480.5 663L478.5 660.8L476.5 658.8L474.5 657.1L472.5 655.7L470.5 654.8L468.5 654.2L466.5 653.8L464.5 653.3L462.5 652.9L460.5 652.5L458.5 652L456.5 651.6L454.5 651.2L452.5 650.7L450.5 650.3L448.5 649.9L446.5 649.4L444.5 649Z" fill="#e4b8a6" />
<path d="M444.5 649L446.5 649.4L448.5 649.9L450.5 650.3L452.5 650.7L454.5 651.2L456.5 651.6L458.5 652L460.5 652.5L462.5 652.9L464.5 653.3L466.5 653.8L468.5 654.2L470.5 654.8L472.5 655.7L474.5 657.1L476.5 658.8L478.5 660.8L480.5 663L482.5 665.2L484.5 667.2L486.5 668.8L488.5 669.9L490.5 670.3L492.5 669.5L494.5 667.5L496.5 665.2L498.5 663.1L500.5 661.9L502.5 661.6L504.5 662L506.5 662.4L508.5 662.8L510.5 663.3L512.5 663.7L514.5 664.1L516.5 664.6L518.5 665L520.5 665.4L522.5 665.9L524.5 666.3L526.5 666.7L528.5 667.1L530.5 667.6L532.5 668L534.5 668.4L536.5 668.9L536.6 668.9" fill="none" stroke="#c08c70" stroke-width="0.6" />
<path d="M444.5 652.1L446.5 652.5L448.5 653L450.5 653.4L452.5 653.9L454.5 654.3L456.5 654.7L458.5 655.2L460.5 655.6L462.5 656.1L464.5 656.5L466.5 657L468.5 657.5L470.5 658.1L472.5 659.1L474.5 660.5L476.5 662.1L478.5 664.1L480.5 666.1L482.5 668.1L484.5 670L486.5 671.4L488.5 672.5L490.5 672.9L492.5 672.2L494.5 670.5L496.5 668.5L498.5 666.6L500.5 665.4L502.5 665.1L504.5 665.4L506.5 665.9L508.5 666.3L510.5 666.7L512.5 667.2L514.5 667.6L516.5 668.1L518.5 668.5L520.5 669L522.5 669.4L524.5 669.9L526.5 670.3L528.5 670.7L530.5 671.2L532.5 671.6L534.5 672.1L536.5 672.5L536.6 672.5" fill="none" stroke="#e2c385" stroke-width="0.5" />
<path d="M444.5 655.2L446.5 655.6L448.5 656.1L450.5 656.5L452.5 657L454.5 657.4L456.5 657.9L458.5 658.4L460.5 658.8L462.5 659.3L464.5 659.7L466.5 660.2L468.5 660.7L470.5 661.5L472.5 662.5L474.5 663.9L476.5 665.5L478.5 667.3L480.5 669.2L482.5 671L484.5 672.7L486.5 674.1L488.5 675L490.5 675.5L492.5 674.9L494.5 673.5L496.5 671.8L498.5 670.1L500.5 669L502.5 668.6L504.5 668.9L506.5 669.3L508.5 669.8L510.5 670.2L512.5 670.7L514.5 671.1L516.5 671.6L518.5 672L520.5 672.5L522.5 673L524.5 673.4L526.5 673.9L528.5 674.3L530.5 674.8L532.5 675.2L534.5 675.7L536.5 676.2L536.6 676.2" fill="none" stroke="#e2c385" stroke-width="0.5" />
<path d="M444.5 657.8L446.5 658.3L448.5 658.7L450.5 659.2L452.5 659.7L454.5 660.1L456.5 660.6L458.5 661.1L460.5 661.5L462.5 662L464.5 662.5L466.5 662.9L468.5 663.5L470.5 664.3L472.5 665.4L474.5 666.8L476.5 668.3L478.5 670L480.5 671.8L482.5 673.5L484.5 675L486.5 676.3L488.5 677.2L490.5 677.7L492.5 677.3L494.5 676.1L496.5 674.6L498.5 673.1L500.5 672L502.5 671.6L504.5 671.8L506.5 672.3L508.5 672.7L510.5 673.2L512.5 673.7L514.5 674.1L516.5 674.6L518.5 675.1L520.5 675.5L522.5 676L524.5 676.5L526.5 676.9L528.5 677.4L530.5 677.9L532.5 678.3L534.5 678.8L536.5 679.3L536.6 679.3" fill="none" stroke="#d9a070" stroke-width="0.5" />
<path d="M444.5 660.4L446.5 660.9L448.5 661.4L450.5 661.8L452.5 662.3L454.5 662.8L456.5 663.2L458.5 663.7L460.5 664.1L462.5 664.6L464.5 665.1L466.5 665.5L468.5 666.1L470.5 666.9L472.5 668L474.5 669.2L476.5 670.7L478.5 672.4L480.5 674.1L482.5 675.7L484.5 677.1L486.5 678.3L488.5 679.1L490.5 679.6L492.5 679.2L494.5 678.1L496.5 676.6L498.5 675.2L500.5 674.2L502.5 673.8L504.5 673.9L506.5 674.4L508.5 674.8L510.5 675.3L512.5 675.7L514.5 676.2L516.5 676.7L518.5 677.1L520.5 677.6L522.5 678.1L524.5 678.6L526.5 679L528.5 679.5L530.5 680L532.5 680.5L534.5 680.9L536.5 681.4L536.6 681.4" fill="none" stroke="#f7d3ce" stroke-width="3.7" stroke-linecap="round" stroke-dasharray="2.9 4.6" stroke-dashoffset="0"/>
<path d="M444.5 665.6L446.5 666.1L448.5 666.6L450.5 667.1L452.5 667.5L454.5 668L456.5 668.5L458.5 668.9L460.5 669.4L462.5 669.8L464.5 670.2L466.5 670.7L468.5 671.3L470.5 672L472.5 673L474.5 674.2L476.5 675.6L478.5 677L480.5 678.5L482.5 679.9L484.5 681.2L486.5 682.2L488.5 683L490.5 683.4L492.5 683L494.5 682.1L496.5 680.7L498.5 679.5L500.5 678.5L502.5 678.1L504.5 678.2L506.5 678.5L508.5 679L510.5 679.4L512.5 679.9L514.5 680.3L516.5 680.8L518.5 681.3L520.5 681.8L522.5 682.3L524.5 682.8L526.5 683.2L528.5 683.7L530.5 684.2L532.5 684.7L534.5 685.2L536.5 685.7L536.6 685.7" fill="none" stroke="#f7d3ce" stroke-width="3.7" stroke-linecap="round" stroke-dasharray="2.9 4.6" stroke-dashoffset="2.7"/>
<path d="M444.5 670.8L446.5 671.3L448.5 671.8L450.5 672.3L452.5 672.8L454.5 673.3L456.5 673.7L458.5 674.2L460.5 674.6L462.5 675L464.5 675.4L466.5 675.9L468.5 676.5L470.5 677.2L472.5 678.1L474.5 679.2L476.5 680.4L478.5 681.7L480.5 683L482.5 684.2L484.5 685.3L486.5 686.2L488.5 686.8L490.5 687.1L492.5 686.9L494.5 686L496.5 684.9L498.5 683.7L500.5 682.8L502.5 682.4L504.5 682.4L506.5 682.7L508.5 683.1L510.5 683.6L512.5 684L514.5 684.5L516.5 685L518.5 685.4L520.5 685.9L522.5 686.4L524.5 686.9L526.5 687.5L528.5 688L530.5 688.5L532.5 689L534.5 689.5L536.5 690L536.6 690" fill="none" stroke="#f7d3ce" stroke-width="3.7" stroke-linecap="round" stroke-dasharray="2.9 4.6" stroke-dashoffset="5.4"/>
<path d="M444.5 676L446.5 676.5L448.5 677.1L450.5 677.6L452.5 678L454.5 678.5L456.5 679L458.5 679.4L460.5 679.8L462.5 680.2L464.5 680.6L466.5 681.1L468.5 681.6L470.5 682.3L472.5 683.2L474.5 684.1L476.5 685.2L478.5 686.3L480.5 687.5L482.5 688.5L484.5 689.4L486.5 690.2L488.5 690.7L490.5 690.9L492.5 690.7L494.5 690L496.5 689L498.5 687.9L500.5 687.1L502.5 686.6L504.5 686.6L506.5 686.9L508.5 687.3L510.5 687.7L512.5 688.2L514.5 688.6L516.5 689.1L518.5 689.6L520.5 690.1L522.5 690.6L524.5 691.1L526.5 691.7L528.5 692.2L530.5 692.7L532.5 693.2L534.5 693.8L536.5 694.3L536.6 694.3" fill="none" stroke="#f7d3ce" stroke-width="3.7" stroke-linecap="round" stroke-dasharray="2.9 4.6" stroke-dashoffset="8.1"/>
<path d="M444.5 681.4L446.5 681.9L448.5 682.4L450.5 682.9L452.5 683.4L454.5 683.9L456.5 684.3L458.5 684.8L460.5 685.2L462.5 685.6L464.5 686L466.5 686.4L468.5 687L470.5 687.6L472.5 688.4L474.5 689.3L476.5 690.3L478.5 691.3L480.5 692.3L482.5 693.2L484.5 694L486.5 694.6L488.5 695.1L490.5 695.3L492.5 695.1L494.5 694.5L496.5 693.6L498.5 692.7L500.5 692L502.5 691.6L504.5 691.5L506.5 691.7L508.5 692.1L510.5 692.5L512.5 693L514.5 693.4L516.5 693.9L518.5 694.4L520.5 694.9L522.5 695.4L524.5 696L526.5 696.5L528.5 697L530.5 697.6L532.5 698.1L534.5 698.6L536.5 699.2L536.6 699.2" fill="none" stroke="#989ed0" stroke-width="3" stroke-dasharray="2.2 1.6"/>
<rect x="450.5" y="680.4" width="3.8" height="5" fill="#4fa6c2"/>
<rect x="474.5" y="686.8" width="3.8" height="5" fill="#4fa6c2"/>
<rect x="510.5" y="690" width="3.8" height="5" fill="#4fa6c2"/>
<path d="M424.5 683.5Q430.5 698.2 440 712.9M438.4 683.5Q427.4 698.2 419.9 712.9M434.5 683.5Q446.1 698.8 452 714.1M450.3 684.6Q442 698.7 429.2 712.9M445.2 683.5Q452.4 699.8 462.1 716.1M460.4 686.9Q453.1 699.9 440.2 712.9M455.9 686Q460.3 701.3 464.3 716.5M463.4 687.7Q459.5 701.1 453.4 714.5M464.8 688.1Q472.7 704.3 484.1 720.5M482.2 694.3Q473.2 705 459 715.7M474.4 690.6Q484.9 706.5 493.2 722.4M491.3 697.2Q482.8 707.4 468.7 717.7M481.8 694.3Q491 708.6 495.5 722.8M494.1 697Q484.7 708.1 477.7 719.3M489.8 696.9Q496.3 710.7 504.3 724.4M502.9 693.7Q492.2 707.3 485.5 720.9M499.1 694.8Q501.1 710 507.3 725.2M506.5 693.6Q499 708.4 496.7 723.2M507 693.9Q511.5 710.5 518.3 727.2M517.2 696.1Q511 710.3 503.6 724.4M517.7 696.1Q523.3 713.4 534.8 730.8M533.1 700.3Q523.9 713.1 512.5 726M525.3 698.1Q533.1 714.7 542.9 731.2M541.1 701.3Q529.4 714.5 520 727.6M532.8 700.3Q542.5 715.7 548.3 731.2M546.7 701.3Q537.4 715.3 528.2 729.2M540.4 701.3Q543.3 716.3 548.4 731.2M547.6 701.3Q542.6 716.3 537.9 731.2" fill="none" stroke="#b56f62" stroke-width="0.6" clip-path="url(#clipD2)"/>
<circle cx="507.8" cy="701.1" r="1.3" fill="#5a62b4"/>
<circle cx="530.5" cy="706.2" r="1.3" fill="#5a62b4"/>
<circle cx="511.6" cy="718.7" r="1.3" fill="#5a62b4"/>
<circle cx="450" cy="705.6" r="1.3" fill="#5a62b4"/>
<circle cx="479.3" cy="708.8" r="1.3" fill="#5a62b4"/>
<circle cx="449.3" cy="691.5" r="1.3" fill="#5a62b4"/>
<circle cx="463.7" cy="711.6" r="1.3" fill="#5a62b4"/>
<circle cx="465" cy="708.3" r="1.3" fill="#5a62b4"/>
<circle cx="526.7" cy="724" r="1.3" fill="#5a62b4"/>
<circle cx="477.5" cy="704.4" r="1.3" fill="#5a62b4"/>
<circle cx="492.6" cy="715" r="1.3" fill="#5a62b4"/>
<path d="M464.5 716.9Q467 707.9 463.5 698.9M466 708.9L470.5 701.9M465.3 704.9L460.5 700.9" fill="none" stroke="#3f6fb0" stroke-width="0.9"/>
<path d="M468 716.9Q470.5 708.9 468.5 700.9M469.5 709.9L474.5 703.9M469.5 705.9L472.5 698.9" fill="none" stroke="#a8443c" stroke-width="0.9"/>
<path d="M512.5 726.4Q515 717.4 511.5 708.4M514 718.4L518.5 711.4M513.3 714.4L508.5 710.4" fill="none" stroke="#3f6fb0" stroke-width="0.9"/>
<path d="M516 726.4Q518.5 718.4 516.5 710.4M517.5 719.4L522.5 713.4M517.5 715.4L520.5 708.4" fill="none" stroke="#a8443c" stroke-width="0.9"/>
</g>
<clipPath id="clipR2"><path d="M536.6 663.3L573.7 642.3L573.7 716.4L536.6 738.8Z" fill="#000" /></clipPath>
<clipPath id="clipDR2"><path d="M536.6 704L538.6 702.3L540.6 700.5L542.6 698.7L544.6 696.8L546.6 695.1L548.6 693.5L550.6 692L552.6 690.7L554.6 689.6L556.6 688.6L558.6 687.8L560.6 687L562.6 686.2L564.6 685.4L566.6 684.5L568.6 683.4L570.6 682.1L572.6 680.7L573.7 679.8L573.7 709.3L536.6 730.5Z" fill="#000" /></clipPath>
<g clip-path="url(#clipR2)">
<path d="M536.6 663.3L573.7 642.3L573.7 716.4L536.6 738.8Z" fill="#d9a981" />
<path d="M536.6 602.3L573.7 602.3L573.7 710.8L536.6 732Z" fill="#5e3b3b" />
<path d="M536.6 602.3L573.7 602.3L573.7 709.3L536.6 730.5Z" fill="#efcfc8" />
<path d="M536.6 602.3L573.7 602.3L573.7 679.8L572.6 680.7L570.6 682.1L568.6 683.4L566.6 684.5L564.6 685.4L562.6 686.2L560.6 687L558.6 687.8L556.6 688.6L554.6 689.6L552.6 690.7L550.6 692L548.6 693.5L546.6 695.1L544.6 696.8L542.6 698.7L540.6 700.5L538.6 702.3L536.6 704Z" fill="#fbf6f6" />
<path d="M536.6 602.3L573.7 602.3L573.7 678.6L572.6 679.5L570.6 680.9L568.6 682.2L566.6 683.2L564.6 684.2L562.6 685L560.6 685.7L558.6 686.5L556.6 687.3L554.6 688.3L552.6 689.4L550.6 690.7L548.6 692.1L546.6 693.7L544.6 695.5L542.6 697.3L540.6 699.1L538.6 700.9L536.6 702.6Z" fill="#c2c8e6" />
<path d="M536.6 602.3L573.7 602.3L573.7 673.6L572.6 674.4L570.6 675.9L568.6 677.1L566.6 678.1L564.6 679L562.6 679.8L560.6 680.6L558.6 681.3L556.6 682.1L554.6 683L552.6 684.1L550.6 685.3L548.6 686.8L546.6 688.4L544.6 690.1L542.6 691.9L540.6 693.7L538.6 695.4L536.6 697.1Z" fill="#e2a8a5" />
<path d="M536.6 602.3L573.7 602.3L573.7 658.8L536.6 679.3Z" fill="#e8d09a" />
<path d="M536.6 602.3L573.7 602.3L573.7 648.3L536.6 668.9Z" fill="#cfa08a" />
<path d="M536.6 672L573.7 651.4" fill="none" stroke="#d2b070" stroke-width="0.5" />
<path d="M536.6 674.6L573.7 654.1" fill="none" stroke="#d2b070" stroke-width="0.5" />
<path d="M536.6 677.2L573.7 656.7" fill="none" stroke="#d2b070" stroke-width="0.5" />
<path d="M536.6 682.3L538.6 681.1L540.6 679.9L542.6 678.6L544.6 677.4L546.6 676.2L548.6 675L550.6 673.9L552.6 672.7L554.6 671.6L556.6 670.6L558.6 669.5L560.6 668.5L562.6 667.4L564.6 666.4L566.6 665.3L568.6 664.2L570.6 663.1L572.6 661.9L573.7 661.3" fill="none" stroke="#f2c6c1" stroke-width="4.1" stroke-linecap="round" stroke-dasharray="1.1 5" stroke-dashoffset="0"/>
<path d="M536.6 688.2L538.6 686.8L540.6 685.4L542.6 683.9L544.6 682.5L546.6 681.1L548.6 679.7L550.6 678.5L552.6 677.3L554.6 676.2L556.6 675.2L558.6 674.2L560.6 673.3L562.6 672.4L564.6 671.4L566.6 670.4L568.6 669.4L570.6 668.2L572.6 666.9L573.7 666.2" fill="none" stroke="#f2c6c1" stroke-width="4.1" stroke-linecap="round" stroke-dasharray="1.1 5" stroke-dashoffset="2.1"/>
<path d="M536.6 694.1L538.6 692.6L540.6 690.9L542.6 689.2L544.6 687.6L546.6 685.9L548.6 684.4L550.6 683.1L552.6 681.8L554.6 680.7L556.6 679.8L558.6 678.9L560.6 678.1L562.6 677.4L564.6 676.5L566.6 675.6L568.6 674.5L570.6 673.3L572.6 671.9L573.7 671.1" fill="none" stroke="#f2c6c1" stroke-width="4.1" stroke-linecap="round" stroke-dasharray="1.1 5" stroke-dashoffset="4.2"/>
<path d="M536.6 699.8L538.6 698.2L540.6 696.4L542.6 694.6L544.6 692.8L546.6 691.1L548.6 689.4L550.6 688L552.6 686.7L554.6 685.7L556.6 684.7L558.6 683.9L560.6 683.2L562.6 682.4L564.6 681.6L566.6 680.7L568.6 679.6L570.6 678.4L572.6 676.9L573.7 676.1" fill="none" stroke="#9096c8" stroke-width="2.8" stroke-dasharray="1.7 1.3"/>
<rect x="557.6" y="681.3" width="3" height="4.8" fill="#4a9dba"/>
<path d="M530.6 702L536.1 730.5M536.1 702L529.5 730.5M537.8 702L546.8 724.8M546.8 693.1L536 730.5M545.4 694.8L550.6 722.5M550.6 690L544.4 727.1M553.3 688.7L558.7 717.9M558.7 685.8L552.2 722.5M559.3 685.8L567.3 713.4M567.3 682.5L557.7 719.1M567 682.5L573.7 709.9M573.7 678.7L565.7 714.5M574.8 677.8L582.5 709.3M582.5 677.8L573.3 709.9" fill="none" stroke="#a8584f" stroke-width="0.6" clip-path="url(#clipDR2)"/>
<circle cx="549.8" cy="702" r="1.2" fill="#5a62b4"/>
<circle cx="542.9" cy="706.4" r="1.2" fill="#5a62b4"/>
<circle cx="560.7" cy="711.7" r="1.2" fill="#5a62b4"/>
<circle cx="545.3" cy="702.8" r="1.2" fill="#5a62b4"/>
<path d="M536.6 663.3L573.7 642.3L573.7 716.4L536.6 738.8Z" fill="#7a4a30" opacity="0.10"/>
</g>
<linearGradient id="top2" gradientUnits="userSpaceOnUse" x1="444.5" y1="641.8" x2="573.7" y2="642.3"><stop offset="0" stop-color="#dba995"/><stop offset="0.5" stop-color="#e3b5a2"/><stop offset="1" stop-color="#deae9a"/></linearGradient>
<path d="M444.5 641.8L483.4 622L508.6 626.2L470.8 650Z" fill="url(#top2)" />
<path d="M501.6 657L533.1 633.9L573.7 642.3L536.6 663.3Z" fill="url(#top2)" />
<linearGradient id="wall2" gradientUnits="userSpaceOnUse" x1="470.8" y1="650" x2="495.6" y2="662.6"><stop offset="0" stop-color="#d39d88"/><stop offset="0.35" stop-color="#c08e7f"/><stop offset="1" stop-color="#b07f74"/></linearGradient>
<path d="M470.8 650L472.5 649L474.5 650.4L476.5 652.2L478.5 654.2L480.5 656.5L482.5 658.7L484.5 660.7L486.5 662.3L488.5 663.5L489.7 662.6L521.2 640.9L508.6 626.2Z" fill="url(#wall2)" />
<path d="M489.7 662.6L490.5 663.9L492.5 663.1L494.5 661.2L496.5 658.9L498.5 656.8L500.5 655.6L501.6 657L533.1 633.9L521.2 640.9Z" fill="#deaa94" />
<path d="M444.5 641.8L536.6 663.3L573.7 642.3" fill="none" stroke="#c9937c" stroke-width="0.5" opacity="0.7"/></g>
<g id="b3"><clipPath id="clipD3"><path d="M605.6 685.5L607.6 686.1L609.6 686.6L611.6 687.1L613.6 687.6L615.6 688.1L617.6 688.5L619.6 689L621.6 689.4L623.6 689.8L625.6 690.2L627.6 690.5L629.6 690.8L631.6 691.1L633.6 691.7L635.6 693.1L637.6 695.6L639.6 699L641.6 702.7L643.6 706.4L645.6 709.5L647.6 711.7L649.6 712.7L651.6 711.9L653.6 709.1L655.6 705.1L657.6 700.8L659.6 697.3L661.6 695.5L663.6 695.4L665.6 695.7L667.6 696.1L669.6 696.6L671.6 697L673.6 697.4L675.6 697.9L677.6 698.4L679.6 698.9L681.6 699.5L683.6 700L685.6 700.5L687.6 701.1L689.6 701.6L691.6 702.2L693.6 702.7L695.6 703.3L696.3 703.4L696.3 730.8L605.6 712.9Z" fill="#000" /></clipPath>
<clipPath id="clipF3"><path d="M605.6 641.8L607.6 642.3L609.6 642.8L611.6 643.2L613.6 643.7L615.6 644.2L617.6 644.7L619.6 645.1L621.6 645.6L623.6 646.1L625.6 646.6L627.6 647L629.6 647.5L631.6 648L633.6 648.6L635.6 650.2L637.6 653.1L639.6 657.1L641.6 661.7L643.6 666.4L645.6 670.5L647.6 673.4L649.6 674.8L651.6 674L653.6 670.7L655.6 665.9L657.6 660.9L659.6 657.1L661.6 655.4L663.6 655.6L665.6 656.1L667.6 656.6L669.6 657L671.6 657.5L673.6 658L675.6 658.5L677.6 658.9L679.6 659.4L681.6 659.9L683.6 660.4L685.6 660.9L687.6 661.3L689.6 661.8L691.6 662.3L693.6 662.8L695.6 663.2L696.3 663.4L696.3 739.1L605.6 720.4Z" fill="#000" /></clipPath>
<g clip-path="url(#clipF3)">
<path d="M605.6 641.8L696.3 663.4L696.3 739.1L605.6 720.4Z" fill="#e4b791" />
<path d="M605.6 601.8L696.3 601.8L696.3 732.3L605.6 714.4Z" fill="#6d4545" />
<path d="M605.6 601.8L696.3 601.8L696.3 730.8L605.6 712.9Z" fill="#f5dcd7" />
<path d="M605.6 601.8L696.3 601.8L696.3 703.4L695.6 703.3L693.6 702.7L691.6 702.2L689.6 701.6L687.6 701.1L685.6 700.5L683.6 700L681.6 699.5L679.6 698.9L677.6 698.4L675.6 697.9L673.6 697.4L671.6 697L669.6 696.6L667.6 696.1L665.6 695.7L663.6 695.4L661.6 695.5L659.6 697.3L657.6 700.8L655.6 705.1L653.6 709.1L651.6 711.9L649.6 712.7L647.6 711.7L645.6 709.5L643.6 706.4L641.6 702.7L639.6 699L637.6 695.6L635.6 693.1L633.6 691.7L631.6 691.1L629.6 690.8L627.6 690.5L625.6 690.2L623.6 689.8L621.6 689.4L619.6 689L617.6 688.5L615.6 688.1L613.6 687.6L611.6 687.1L609.6 686.6L607.6 686.1L605.6 685.5Z" fill="#ffffff" />
<path d="M605.6 601.8L696.3 601.8L696.3 702L695.6 701.9L693.6 701.3L691.6 700.8L689.6 700.2L687.6 699.7L685.6 699.1L683.6 698.6L681.6 698.1L679.6 697.5L677.6 697L675.6 696.5L673.6 696L671.6 695.6L669.6 695.2L667.6 694.7L665.6 694.3L663.6 694L661.6 694.1L659.6 695.9L657.6 699.4L655.6 703.7L653.6 707.7L651.6 710.5L649.6 711.3L647.6 710.3L645.6 708.1L643.6 705L641.6 701.3L639.6 697.6L637.6 694.2L635.6 691.7L633.6 690.3L631.6 689.7L629.6 689.4L627.6 689.1L625.6 688.8L623.6 688.4L621.6 688L619.6 687.6L617.6 687.1L615.6 686.7L613.6 686.2L611.6 685.7L609.6 685.2L607.6 684.7L605.6 684.1Z" fill="#c9cfea" />
<path d="M605.6 601.8L696.3 601.8L696.3 696.5L695.6 696.4L693.6 695.8L691.6 695.3L689.6 694.7L687.6 694.2L685.6 693.6L683.6 693.1L681.6 692.6L679.6 692L677.6 691.5L675.6 691L673.6 690.5L671.6 690.1L669.6 689.7L667.6 689.2L665.6 688.8L663.6 688.5L661.6 688.7L659.6 690.5L657.6 693.7L655.6 697.6L653.6 701.3L651.6 703.8L649.6 704.5L647.6 703.5L645.6 701.5L643.6 698.7L641.6 695.3L639.6 691.8L637.6 688.7L635.6 686.3L633.6 684.8L631.6 684.2L629.6 683.9L627.6 683.6L625.6 683.3L623.6 682.9L621.6 682.5L619.6 682.1L617.6 681.6L615.6 681.2L613.6 680.7L611.6 680.2L609.6 679.7L607.6 679.2L605.6 678.6Z" fill="#e8b0ad" />
<path d="M605.6 601.8L696.3 601.8L696.3 679.4L695.6 679.2L693.6 678.8L691.6 678.3L689.6 677.8L687.6 677.3L685.6 676.9L683.6 676.4L681.6 675.9L679.6 675.4L677.6 674.9L675.6 674.5L673.6 674L671.6 673.5L669.6 673L667.6 672.6L665.6 672.1L663.6 671.6L661.6 671.5L659.6 673.2L657.6 676.8L655.6 681.5L653.6 685.9L651.6 688.9L649.6 689.7L647.6 688.3L645.6 685.6L643.6 681.8L641.6 677.4L639.6 673L637.6 669.1L635.6 666.2L633.6 664.6L631.6 664L629.6 663.5L627.6 663L625.6 662.6L623.6 662.1L621.6 661.6L619.6 661.1L617.6 660.7L615.6 660.2L613.6 659.7L611.6 659.2L609.6 658.8L607.6 658.3L605.6 657.8Z" fill="#f3dfab" />
<path d="M605.6 601.8L696.3 601.8L696.3 669L695.6 668.8L693.6 668.4L691.6 668L689.6 667.5L687.6 667.1L685.6 666.6L683.6 666.2L681.6 665.8L679.6 665.3L677.6 664.9L675.6 664.4L673.6 664L671.6 663.6L669.6 663.1L667.6 662.7L665.6 662.2L663.6 661.8L661.6 661.6L659.6 663.4L657.6 667.2L655.6 672.2L653.6 677L651.6 680.4L649.6 681.2L647.6 679.8L645.6 677L643.6 672.9L641.6 668.3L639.6 663.7L637.6 659.7L635.6 656.8L633.6 655.3L631.6 654.7L629.6 654.3L627.6 653.9L625.6 653.4L623.6 653L621.6 652.5L619.6 652.1L617.6 651.6L615.6 651.2L613.6 650.8L611.6 650.3L609.6 649.9L607.6 649.4L605.6 649Z" fill="#e4b8a6" />
<path d="M605.6 649L607.6 649.4L609.6 649.9L611.6 650.3L613.6 650.8L615.6 651.2L617.6 651.6L619.6 652.1L621.6 652.5L623.6 653L625.6 653.4L627.6 653.9L629.6 654.3L631.6 654.7L633.6 655.3L635.6 656.8L637.6 659.7L639.6 663.7L641.6 668.3L643.6 672.9L645.6 677L647.6 679.8L649.6 681.2L651.6 680.4L653.6 677L655.6 672.2L657.6 667.2L659.6 663.4L661.6 661.6L663.6 661.8L665.6 662.2L667.6 662.7L669.6 663.1L671.6 663.6L673.6 664L675.6 664.4L677.6 664.9L679.6 665.3L681.6 665.8L683.6 666.2L685.6 666.6L687.6 667.1L689.6 667.5L691.6 668L693.6 668.4L695.6 668.8L696.3 669" fill="none" stroke="#c08c70" stroke-width="0.6" />
<path d="M605.6 652.1L607.6 652.5L609.6 653L611.6 653.4L613.6 653.9L615.6 654.3L617.6 654.8L619.6 655.3L621.6 655.7L623.6 656.2L625.6 656.6L627.6 657.1L629.6 657.5L631.6 658L633.6 658.5L635.6 660.1L637.6 663L639.6 666.9L641.6 671.5L643.6 676L645.6 680L647.6 682.8L649.6 684.2L651.6 683.4L653.6 680.1L655.6 675.4L657.6 670.6L659.6 666.8L661.6 665.1L663.6 665.2L665.6 665.7L667.6 666.1L669.6 666.6L671.6 667L673.6 667.5L675.6 667.9L677.6 668.4L679.6 668.9L681.6 669.3L683.6 669.8L685.6 670.2L687.6 670.7L689.6 671.1L691.6 671.6L693.6 672L695.6 672.5L696.3 672.6" fill="none" stroke="#e2c385" stroke-width="0.5" />
<path d="M605.6 655.2L607.6 655.6L609.6 656.1L611.6 656.6L613.6 657L615.6 657.5L617.6 658L619.6 658.4L621.6 658.9L623.6 659.4L625.6 659.8L627.6 660.3L629.6 660.7L631.6 661.2L633.6 661.8L635.6 663.4L637.6 666.3L639.6 670.2L641.6 674.6L643.6 679.1L645.6 683L647.6 685.8L649.6 687.1L651.6 686.4L653.6 683.3L655.6 678.7L657.6 673.9L659.6 670.2L661.6 668.5L663.6 668.7L665.6 669.1L667.6 669.6L669.6 670.1L671.6 670.5L673.6 671L675.6 671.5L677.6 671.9L679.6 672.4L681.6 672.9L683.6 673.3L685.6 673.8L687.6 674.3L689.6 674.7L691.6 675.2L693.6 675.7L695.6 676.1L696.3 676.3" fill="none" stroke="#e2c385" stroke-width="0.5" />
<path d="M605.6 657.8L607.6 658.3L609.6 658.8L611.6 659.2L613.6 659.7L615.6 660.2L617.6 660.7L619.6 661.1L621.6 661.6L623.6 662.1L625.6 662.6L627.6 663L629.6 663.5L631.6 664L633.6 664.6L635.6 666.2L637.6 669.1L639.6 673L641.6 677.4L643.6 681.8L645.6 685.6L647.6 688.3L649.6 689.7L651.6 688.9L653.6 685.9L655.6 681.5L657.6 676.8L659.6 673.2L661.6 671.5L663.6 671.6L665.6 672.1L667.6 672.6L669.6 673L671.6 673.5L673.6 674L675.6 674.5L677.6 674.9L679.6 675.4L681.6 675.9L683.6 676.4L685.6 676.9L687.6 677.3L689.6 677.8L691.6 678.3L693.6 678.8L695.6 679.2L696.3 679.4" fill="none" stroke="#d9a070" stroke-width="0.5" />
<path d="M605.6 660.4L607.6 660.9L609.6 661.4L611.6 661.9L613.6 662.3L615.6 662.8L617.6 663.3L619.6 663.8L621.6 664.2L623.6 664.7L625.6 665.2L627.6 665.6L629.6 666.1L631.6 666.5L633.6 667.1L635.6 668.8L637.6 671.6L639.6 675.3L641.6 679.6L643.6 683.9L645.6 687.6L647.6 690.2L649.6 691.5L651.6 690.8L653.6 687.8L655.6 683.5L657.6 678.9L659.6 675.4L661.6 673.6L663.6 673.7L665.6 674.2L667.6 674.6L669.6 675.1L671.6 675.6L673.6 676.1L675.6 676.5L677.6 677L679.6 677.5L681.6 678L683.6 678.5L685.6 679L687.6 679.4L689.6 679.9L691.6 680.4L693.6 680.9L695.6 681.4L696.3 681.5" fill="none" stroke="#f7d3ce" stroke-width="3.7" stroke-linecap="round" stroke-dasharray="2.9 4.6" stroke-dashoffset="0"/>
<path d="M605.6 665.6L607.6 666.1L609.6 666.6L611.6 667.1L613.6 667.6L615.6 668.1L617.6 668.5L619.6 669L621.6 669.4L623.6 669.9L625.6 670.3L627.6 670.8L629.6 671.2L631.6 671.6L633.6 672.2L635.6 673.8L637.6 676.5L639.6 680L641.6 684.1L643.6 688.1L645.6 691.6L647.6 694L649.6 695.2L651.6 694.5L653.6 691.7L655.6 687.5L657.6 683.1L659.6 679.7L661.6 677.9L663.6 677.9L665.6 678.4L667.6 678.8L669.6 679.3L671.6 679.7L673.6 680.2L675.6 680.7L677.6 681.2L679.6 681.7L681.6 682.1L683.6 682.6L685.6 683.1L687.6 683.7L689.6 684.2L691.6 684.7L693.6 685.2L695.6 685.7L696.3 685.8" fill="none" stroke="#f7d3ce" stroke-width="3.7" stroke-linecap="round" stroke-dasharray="2.9 4.6" stroke-dashoffset="2.7"/>
<path d="M605.6 670.8L607.6 671.3L609.6 671.8L611.6 672.3L613.6 672.8L615.6 673.3L617.6 673.8L619.6 674.2L621.6 674.7L623.6 675.1L625.6 675.5L627.6 675.9L629.6 676.3L631.6 676.6L633.6 677.2L635.6 678.8L637.6 681.4L639.6 684.7L641.6 688.6L643.6 692.3L645.6 695.6L647.6 697.8L649.6 698.9L651.6 698.2L653.6 695.5L655.6 691.5L657.6 687.3L659.6 684L661.6 682.2L663.6 682.2L665.6 682.6L667.6 683L669.6 683.4L671.6 683.9L673.6 684.3L675.6 684.8L677.6 685.3L679.6 685.8L681.6 686.3L683.6 686.8L685.6 687.3L687.6 687.9L689.6 688.4L691.6 688.9L693.6 689.4L695.6 689.9L696.3 690.1" fill="none" stroke="#f7d3ce" stroke-width="3.7" stroke-linecap="round" stroke-dasharray="2.9 4.6" stroke-dashoffset="5.4"/>
<path d="M605.6 676L607.6 676.6L609.6 677.1L611.6 677.6L613.6 678.1L615.6 678.6L617.6 679L619.6 679.5L621.6 679.9L623.6 680.3L625.6 680.7L627.6 681L629.6 681.4L631.6 681.7L633.6 682.3L635.6 683.8L637.6 686.3L639.6 689.5L641.6 693L643.6 696.5L645.6 699.5L647.6 701.6L649.6 702.6L651.6 701.9L653.6 699.3L655.6 695.6L657.6 691.6L659.6 688.3L661.6 686.5L663.6 686.4L665.6 686.7L667.6 687.2L669.6 687.6L671.6 688L673.6 688.5L675.6 689L677.6 689.5L679.6 690L681.6 690.5L683.6 691L685.6 691.5L687.6 692.1L689.6 692.6L691.6 693.2L693.6 693.7L695.6 694.2L696.3 694.4" fill="none" stroke="#f7d3ce" stroke-width="3.7" stroke-linecap="round" stroke-dasharray="2.9 4.6" stroke-dashoffset="8.1"/>
<path d="M605.6 681.4L607.6 681.9L609.6 682.4L611.6 683L613.6 683.5L615.6 683.9L617.6 684.4L619.6 684.8L621.6 685.2L623.6 685.6L625.6 686L627.6 686.4L629.6 686.7L631.6 687L633.6 687.5L635.6 689L637.6 691.5L639.6 694.7L641.6 698.3L643.6 701.8L645.6 704.8L647.6 706.9L649.6 707.9L651.6 707.1L653.6 704.5L655.6 700.6L657.6 696.5L659.6 693.2L661.6 691.4L663.6 691.2L665.6 691.6L667.6 692L669.6 692.4L671.6 692.8L673.6 693.3L675.6 693.8L677.6 694.3L679.6 694.8L681.6 695.3L683.6 695.9L685.6 696.4L687.6 696.9L689.6 697.5L691.6 698L693.6 698.6L695.6 699.1L696.3 699.3" fill="none" stroke="#989ed0" stroke-width="3" stroke-dasharray="2.2 1.6"/>
<rect x="612.6" y="681" width="3.8" height="5" fill="#4fa6c2"/>
<rect x="638.6" y="692.2" width="3.8" height="5" fill="#4fa6c2"/>
<rect x="667.6" y="689.5" width="3.8" height="5" fill="#4fa6c2"/>
<path d="M585.6 683.5Q592.4 698.2 597.5 712.9M596.3 683.5Q588.4 698.2 582 712.9M593.2 683.5Q601.4 698.4 609 713.3M607.4 683.5Q595.3 698.2 588.5 712.9M600.5 683.5Q605.1 699 614.9 714.5M613.5 685.1Q603.1 699 596.2 712.9M609 684.1Q614.4 699.7 617.7 715.3M616.8 686.1Q611.1 699.5 606.3 712.9M618 686.5Q621.1 701.7 626.4 716.8M625.6 687.8Q621 701.1 615.5 714.5M626.7 688.2Q630.9 703.3 635.6 718.4M634.7 689.7Q628.2 703.1 624.1 716.4M634.1 689.7Q642.4 705.2 647.2 720.8M645.9 707.5Q639.2 712.6 630.2 717.6M644.4 704.4Q647.6 713.4 653.9 722.4M652.9 709.9Q647.7 714.8 641.5 719.6M652.3 709.9Q660.2 717.5 667.8 725.1M666.3 693.7Q659.2 707.5 647.6 721.2M663.1 693.5Q671.9 710.3 678 727.1M676.5 695.9Q666.3 709.5 658.6 723.1M671.7 695Q684.4 712.2 691.4 729.4M689.4 699.1Q675.3 711.9 665.7 724.7M678.8 696.4Q687.5 713.5 697.1 730.6M695.3 700.7Q685.9 713.3 673.4 725.9M687 698.5Q689.8 714.6 696.7 730.6M695.8 701.3Q689.9 714.8 684.1 728.3M694.5 700.7Q697.6 715.7 706.2 730.8M705 701.4Q699 715.4 691 729.4M704.7 701.4Q711.4 716.1 714.9 730.8M713.9 701.4Q708.2 716.1 701.7 730.8" fill="none" stroke="#b56f62" stroke-width="0.6" clip-path="url(#clipD3)"/>
<circle cx="682" cy="709.9" r="1.3" fill="#5a62b4"/>
<circle cx="667.1" cy="712.2" r="1.3" fill="#5a62b4"/>
<circle cx="657.6" cy="713.5" r="1.3" fill="#5a62b4"/>
<circle cx="679.1" cy="721.9" r="1.3" fill="#5a62b4"/>
<circle cx="648.8" cy="716.7" r="1.3" fill="#5a62b4"/>
<circle cx="614.6" cy="704.8" r="1.3" fill="#5a62b4"/>
<circle cx="663.1" cy="719.8" r="1.3" fill="#5a62b4"/>
<circle cx="677.6" cy="707.8" r="1.3" fill="#5a62b4"/>
<circle cx="641.5" cy="711.4" r="1.3" fill="#5a62b4"/>
<circle cx="611.5" cy="699.4" r="1.3" fill="#5a62b4"/>
<circle cx="623.5" cy="695.6" r="1.3" fill="#5a62b4"/>
<path d="M625.6 716.8Q628.1 707.8 624.6 698.8M627.1 708.8L631.6 701.8M626.4 704.8L621.6 700.8" fill="none" stroke="#3f6fb0" stroke-width="0.9"/>
<path d="M629.1 716.8Q631.6 708.8 629.6 700.8M630.6 709.8L635.6 703.8M630.6 705.8L633.6 698.8" fill="none" stroke="#a8443c" stroke-width="0.9"/>
<path d="M673.6 726.3Q676.1 717.3 672.6 708.3M675.1 718.3L679.6 711.3M674.4 714.3L669.6 710.3" fill="none" stroke="#3f6fb0" stroke-width="0.9"/>
<path d="M677.1 726.3Q679.6 718.3 677.6 710.3M678.6 719.3L683.6 713.3M678.6 715.3L681.6 708.3" fill="none" stroke="#a8443c" stroke-width="0.9"/>
</g>
<clipPath id="clipR3"><path d="M696.3 663.4L734.2 643L734.2 715.8L696.3 738.8Z" fill="#000" /></clipPath>
<clipPath id="clipDR3"><path d="M696.3 704.1L698.3 702.5L700.3 700.7L702.3 699L704.3 697.2L706.3 695.5L708.3 693.9L710.3 692.5L712.3 691.3L714.3 690.2L716.3 689.2L718.3 688.4L720.3 687.7L722.3 687L724.3 686.2L726.3 685.4L728.3 684.4L730.3 683.2L732.3 681.9L734.2 680.5L734.2 708.7L696.3 730.5Z" fill="#000" /></clipPath>
<g clip-path="url(#clipR3)">
<path d="M696.3 663.4L734.2 643L734.2 715.8L696.3 738.8Z" fill="#d9a981" />
<path d="M696.3 603L734.2 603L734.2 710.2L696.3 732Z" fill="#5e3b3b" />
<path d="M696.3 603L734.2 603L734.2 708.7L696.3 730.5Z" fill="#efcfc8" />
<path d="M696.3 603L734.2 603L734.2 680.5L732.3 681.9L730.3 683.2L728.3 684.4L726.3 685.4L724.3 686.2L722.3 687L720.3 687.7L718.3 688.4L716.3 689.2L714.3 690.2L712.3 691.3L710.3 692.5L708.3 693.9L706.3 695.5L704.3 697.2L702.3 699L700.3 700.7L698.3 702.5L696.3 704.1Z" fill="#fbf6f6" />
<path d="M696.3 603L734.2 603L734.2 679.3L732.3 680.7L730.3 682L728.3 683.1L726.3 684.1L724.3 685L722.3 685.7L720.3 686.4L718.3 687.1L716.3 687.9L714.3 688.9L712.3 689.9L710.3 691.2L708.3 692.6L706.3 694.2L704.3 695.9L702.3 697.6L700.3 699.4L698.3 701.1L696.3 702.7Z" fill="#c2c8e6" />
<path d="M696.3 603L734.2 603L734.2 674.3L732.3 675.7L730.3 677L728.3 678.1L726.3 679L724.3 679.8L722.3 680.6L720.3 681.2L718.3 681.9L716.3 682.7L714.3 683.6L712.3 684.6L710.3 685.9L708.3 687.3L706.3 688.8L704.3 690.5L702.3 692.2L700.3 693.9L698.3 695.6L696.3 697.2Z" fill="#e2a8a5" />
<path d="M696.3 603L734.2 603L734.2 659.5L696.3 679.4Z" fill="#e8d09a" />
<path d="M696.3 603L734.2 603L734.2 649L696.3 669Z" fill="#cfa08a" />
<path d="M696.3 672.1L734.2 652.1" fill="none" stroke="#d2b070" stroke-width="0.5" />
<path d="M696.3 674.7L734.2 654.8" fill="none" stroke="#d2b070" stroke-width="0.5" />
<path d="M696.3 677.3L734.2 657.4" fill="none" stroke="#d2b070" stroke-width="0.5" />
<path d="M696.3 682.4L698.3 681.2L700.3 680.1L702.3 678.9L704.3 677.7L706.3 676.6L708.3 675.5L710.3 674.4L712.3 673.3L714.3 672.2L716.3 671.2L718.3 670.2L720.3 669.2L722.3 668.2L724.3 667.2L726.3 666.2L728.3 665.2L730.3 664.1L732.3 663L734.2 662" fill="none" stroke="#f2c6c1" stroke-width="4.1" stroke-linecap="round" stroke-dasharray="1.1 5" stroke-dashoffset="0"/>
<path d="M696.3 688.3L698.3 687L700.3 685.6L702.3 684.2L704.3 682.8L706.3 681.5L708.3 680.2L710.3 679L712.3 677.8L714.3 676.8L716.3 675.8L718.3 674.9L720.3 674L722.3 673.1L724.3 672.3L726.3 671.3L728.3 670.3L730.3 669.3L732.3 668.1L734.2 666.9" fill="none" stroke="#f2c6c1" stroke-width="4.1" stroke-linecap="round" stroke-dasharray="1.1 5" stroke-dashoffset="2.1"/>
<path d="M696.3 694.2L698.3 692.7L700.3 691.2L702.3 689.5L704.3 687.9L706.3 686.4L708.3 684.9L710.3 683.6L712.3 682.4L714.3 681.3L716.3 680.4L718.3 679.6L720.3 678.8L722.3 678.1L724.3 677.3L726.3 676.5L728.3 675.5L730.3 674.4L732.3 673.1L734.2 671.8" fill="none" stroke="#f2c6c1" stroke-width="4.1" stroke-linecap="round" stroke-dasharray="1.1 5" stroke-dashoffset="4.2"/>
<path d="M696.3 699.9L698.3 698.3L700.3 696.6L702.3 694.9L704.3 693.2L706.3 691.5L708.3 689.9L710.3 688.5L712.3 687.3L714.3 686.2L716.3 685.3L718.3 684.5L720.3 683.8L722.3 683.1L724.3 682.4L726.3 681.6L728.3 680.6L730.3 679.5L732.3 678.2L734.2 676.8" fill="none" stroke="#9096c8" stroke-width="2.8" stroke-dasharray="1.7 1.3"/>
<rect x="717.3" y="681.9" width="3" height="4.8" fill="#4a9dba"/>
<path d="M690.3 702.1L695.6 730.5M695.6 702.1L689.2 730.5M697.6 702.1L703.3 727M703.3 697L696.5 730.5M703.3 697L710.3 722.4M710.3 690.5L702 728.2M711 690.5L716.4 719M716.4 687.2L709.9 723.6M717.3 687.2L725.1 714.4M725.1 684.2L715.8 720.1M725 684.2L734.1 709.8M734.1 679.9L723.1 715.5M732.6 679.9L738.9 708.7M738.9 678.5L731.3 710.9M738.8 678.5L745.6 708.7M745.6 678.5L737.4 708.7" fill="none" stroke="#a8584f" stroke-width="0.6" clip-path="url(#clipDR3)"/>
<circle cx="728.9" cy="692.1" r="1.2" fill="#5a62b4"/>
<circle cx="705.6" cy="706.6" r="1.2" fill="#5a62b4"/>
<circle cx="707.3" cy="709.8" r="1.2" fill="#5a62b4"/>
<circle cx="717.9" cy="699.4" r="1.2" fill="#5a62b4"/>
<path d="M696.3 663.4L734.2 643L734.2 715.8L696.3 738.8Z" fill="#7a4a30" opacity="0.10"/>
</g>
<linearGradient id="top3" gradientUnits="userSpaceOnUse" x1="605.6" y1="641.8" x2="734.2" y2="643"><stop offset="0" stop-color="#dba995"/><stop offset="0.5" stop-color="#e3b5a2"/><stop offset="1" stop-color="#deae9a"/></linearGradient>
<path d="M605.6 641.8L644.1 621.3L669.3 626.9L632.9 650Z" fill="url(#top3)" />
<path d="M661.6 657.7L693.1 633.9L734.2 643L696.3 663.4Z" fill="url(#top3)" />
<linearGradient id="wall3" gradientUnits="userSpaceOnUse" x1="632.9" y1="650" x2="655.7" y2="675.2"><stop offset="0" stop-color="#d39d88"/><stop offset="0.35" stop-color="#b58375"/><stop offset="1" stop-color="#9c6c62"/></linearGradient>
<path d="M632.9 650L633.6 648.6L635.6 650.2L637.6 653.1L639.6 657.1L641.6 661.7L643.6 666.4L645.6 670.5L647.6 673.4L649.6 674.8L649.7 675.2L675.6 641.6L669.3 626.9Z" fill="url(#wall3)" />
<path d="M649.7 675.2L651.6 674L653.6 670.7L655.6 665.9L657.6 660.9L659.6 657.1L661.6 655.4L661.6 657.7L693.1 633.9L675.6 641.6Z" fill="#e3b5a2" />
<path d="M605.6 641.8L696.3 663.4L734.2 643" fill="none" stroke="#c9937c" stroke-width="0.5" opacity="0.7"/></g>
<!--BLOCKS_END-->
<!-- Age circles -->
<g transform="translate(291.11 748.11) scale(0.1138)"><g clip-path="url(#cc)"><circle cx="500" cy="500" r="457" fill="#fbf2f0"/><circle cx="465" cy="195" r="66" fill="url(#sD)" stroke="#f6f1f6" stroke-width="4"/><circle cx="552" cy="240" r="64" fill="url(#sM)" stroke="#f6f1f6" stroke-width="4"/><circle cx="440" cy="290" r="70" fill="url(#sL)" stroke="#f6f1f6" stroke-width="4"/><circle cx="775" cy="275" r="52" fill="url(#sD)" stroke="#f6f1f6" stroke-width="4"/><circle cx="832" cy="332" r="46" fill="url(#sM)" stroke="#f6f1f6" stroke-width="4"/><circle cx="880" cy="490" r="56" fill="url(#sL)" stroke="#f6f1f6" stroke-width="4"/><circle cx="85" cy="545" r="52" fill="url(#sM)" stroke="#f6f1f6" stroke-width="4"/><circle cx="162" cy="548" r="50" fill="url(#sL)" stroke="#f6f1f6" stroke-width="4"/><circle cx="250" cy="572" r="24" fill="url(#sL)" stroke="#f6f1f6" stroke-width="4"/><circle cx="590" cy="525" r="78" fill="url(#sD)" stroke="#f6f1f6" stroke-width="4"/><circle cx="470" cy="545" r="62" fill="url(#sL)" stroke="#f6f1f6" stroke-width="4"/><circle cx="602" cy="640" r="86" fill="url(#sM)" stroke="#f6f1f6" stroke-width="4"/><circle cx="870" cy="765" r="50" fill="url(#sM)" stroke="#f6f1f6" stroke-width="4"/><circle cx="828" cy="700" r="72" fill="url(#sD)" stroke="#f6f1f6" stroke-width="4"/><circle cx="345" cy="782" r="54" fill="url(#sD)" stroke="#f6f1f6" stroke-width="4"/><circle cx="402" cy="832" r="48" fill="url(#sM)" stroke="#f6f1f6" stroke-width="4"/><circle cx="412" cy="902" r="46" fill="url(#sL)" stroke="#f6f1f6" stroke-width="4"/><path d="M432 50Q340 290 262 450T130 770M232 150Q330 340 405 525T480 720T560 950M120 260Q190 440 230 600T268 880M556 55Q640 260 725 450T792 565M645 88Q600 280 565 470T500 700T430 940M845 225Q810 370 775 560T735 720T680 900" fill="none" stroke="#d89a99" stroke-width="19"/><path d="M432 50Q340 290 262 450T130 770M232 150Q330 340 405 525T480 720T560 950M120 260Q190 440 230 600T268 880M556 55Q640 260 725 450T792 565M645 88Q600 280 565 470T500 700T430 940M845 225Q810 370 775 560T735 720T680 900" fill="none" stroke="#d89a99" stroke-width="29" stroke-linecap="round" stroke-dasharray="0.1 27"/><path d="M80 692Q320 670 520 585T960 355" fill="none" stroke="#8e3c46" stroke-width="46.0"/><path d="M80 692Q320 670 520 585T960 355" fill="none" stroke="#c26461" stroke-width="38.0"/><path d="M80 692Q320 670 520 585T960 355" fill="none" stroke="#96434a" stroke-width="16.0"/><path d="M80 692Q320 670 520 585T960 355" fill="none" stroke="#c96c67" stroke-width="9.0"/><path d="M60 330Q230 520 400 645T780 865" fill="none" stroke="#8e3c46" stroke-width="46.0"/><path d="M60 330Q230 520 400 645T780 865" fill="none" stroke="#c26461" stroke-width="38.0"/><path d="M60 330Q230 520 400 645T780 865" fill="none" stroke="#96434a" stroke-width="16.0"/><path d="M60 330Q230 520 400 645T780 865" fill="none" stroke="#c96c67" stroke-width="9.0"/><circle cx="755" cy="778" r="76" fill="url(#sL)" stroke="#f6f1f6" stroke-width="4"/></g><circle cx="500" cy="500" r="457" fill="none" stroke="#7f9bc4" stroke-width="17"/></g>
<g transform="translate(452.61 748.11) scale(0.1138)"><g clip-path="url(#cc)"><circle cx="500" cy="500" r="457" fill="#fbf2f0"/><circle cx="470" cy="190" r="64" fill="url(#sD)" stroke="#f6f1f6" stroke-width="4"/><circle cx="553" cy="236" r="62" fill="url(#sM)" stroke="#f6f1f6" stroke-width="4"/><circle cx="452" cy="288" r="68" fill="url(#sL)" stroke="#f6f1f6" stroke-width="4"/><circle cx="772" cy="275" r="52" fill="url(#sD)" stroke="#f6f1f6" stroke-width="4"/><circle cx="832" cy="334" r="46" fill="url(#sM)" stroke="#f6f1f6" stroke-width="4"/><circle cx="866" cy="482" r="54" fill="url(#sL)" stroke="#f6f1f6" stroke-width="4"/><circle cx="100" cy="540" r="52" fill="url(#sM)" stroke="#f6f1f6" stroke-width="4"/><circle cx="186" cy="542" r="50" fill="url(#sL)" stroke="#f6f1f6" stroke-width="4"/><circle cx="262" cy="572" r="22" fill="url(#sL)" stroke="#f6f1f6" stroke-width="4"/><circle cx="880" cy="688" r="66" fill="url(#sD)" stroke="#f6f1f6" stroke-width="4"/><circle cx="405" cy="812" r="50" fill="url(#sM)" stroke="#f6f1f6" stroke-width="4"/><circle cx="420" cy="900" r="44" fill="url(#sL)" stroke="#f6f1f6" stroke-width="4"/><path d="M440 55Q340 300 262 460T150 760M246 152Q320 290 376 410M140 250L163 310M586 120Q625 215 660 302M646 88Q625 200 606 300M573 432Q530 620 480 800T418 935M806 405Q770 580 735 720T684 890M486 736Q520 800 545 860T582 930" fill="none" stroke="#d89a99" stroke-width="19"/><path d="M440 55Q340 300 262 460T150 760M246 152Q320 290 376 410M140 250L163 310M586 120Q625 215 660 302M646 88Q625 200 606 300M573 432Q530 620 480 800T418 935M806 405Q770 580 735 720T684 890M486 736Q520 800 545 860T582 930" fill="none" stroke="#d89a99" stroke-width="29" stroke-linecap="round" stroke-dasharray="0.1 27"/><path d="M90 674Q330 650 520 568T945 340L948 350Q720 512 540 594T94 706Z" fill="#c26461" stroke="#8e3c46" stroke-width="5"/><path d="M92 690Q330 668 530 582T940 348" fill="none" stroke="#96434a" stroke-width="5"/><path d="M72 320Q250 476 420 596T788 842L776 852Q560 752 402 644T68 328Z" fill="#c26461" stroke="#8e3c46" stroke-width="5"/><path d="M72 324Q240 500 410 620T775 846" fill="none" stroke="#96434a" stroke-width="5"/><circle cx="800" cy="770" r="72" fill="url(#sL)" stroke="#f6f1f6" stroke-width="4"/></g><circle cx="500" cy="500" r="457" fill="none" stroke="#7f9bc4" stroke-width="17"/></g>
<g transform="translate(613.31 747.81) scale(0.1138)"><g clip-path="url(#cc)"><circle cx="500" cy="500" r="457" fill="#fbf2f0"/><circle cx="764" cy="276" r="52" fill="url(#sD)" stroke="#f6f1f6" stroke-width="4"/><circle cx="830" cy="332" r="46" fill="url(#sM)" stroke="#f6f1f6" stroke-width="4"/><circle cx="852" cy="424" r="52" fill="url(#sL)" stroke="#f6f1f6" stroke-width="4"/><circle cx="96" cy="543" r="52" fill="url(#sM)" stroke="#f6f1f6" stroke-width="4"/><circle cx="184" cy="545" r="50" fill="url(#sL)" stroke="#f6f1f6" stroke-width="4"/><circle cx="878" cy="690" r="66" fill="url(#sD)" stroke="#f6f1f6" stroke-width="4"/><circle cx="802" cy="770" r="72" fill="url(#sL)" stroke="#f6f1f6" stroke-width="4"/><path d="M251 156Q310 270 357 369M426 62Q350 260 278 436M644 90L617 236M577 436Q520 640 424 916M697 809L664 902" fill="none" stroke="#d89a99" stroke-width="19"/><path d="M251 156Q310 270 357 369M426 62Q350 260 278 436M644 90L617 236M577 436Q520 640 424 916M697 809L664 902" fill="none" stroke="#d89a99" stroke-width="29" stroke-linecap="round" stroke-dasharray="0.1 27"/><path d="M84 672Q330 648 520 566T945 338L950 352Q720 514 540 598T88 712Z" fill="#c26461" stroke="#8e3c46" stroke-width="5"/><path d="M88 692Q330 668 530 582T940 348" fill="none" stroke="#96434a" stroke-width="4"/></g><circle cx="500" cy="500" r="457" fill="none" stroke="#7f9bc4" stroke-width="17"/></g>


<!-- Age labels -->
<g font-size="20" fill="#1f2759" lengthAdjust="spacingAndGlyphs">
<text x="307.5" y="883.2" textLength="83" lengthAdjust="spacingAndGlyphs">35 YEARS</text>
<text x="469" y="883.2" textLength="83" lengthAdjust="spacingAndGlyphs">45 YEARS</text>
<text x="632" y="883.2" textLength="83" lengthAdjust="spacingAndGlyphs">55 YEARS</text>
</g>

<!-- Legend -->
<rect x="146.5" y="899" width="249" height="88.5" fill="#e4e9f3"/>
<circle cx="193.6" cy="921.4" r="8.7" fill="url(#sphL)"/>
<g fill="#d68f87"><ellipse cx="185.4" cy="943.4" rx="4.5" ry="3.4"/><ellipse cx="193.4" cy="943.4" rx="4.5" ry="3.4"/><ellipse cx="201.4" cy="943.4" rx="4.5" ry="3.4"/></g>
<rect x="184" y="960.2" width="19" height="12.4" fill="#cb6d67"/>
<rect x="184" y="960.2" width="19" height="1" fill="#9b4a4c"/><rect x="184" y="965.8" width="19" height="0.9" fill="#9b4a4c"/><rect x="184" y="971.6" width="19" height="1" fill="#9b4a4c"/>
<g font-size="14.8" fill="#1f2759" stroke="#1f2759" stroke-width="0.45">
<text x="220.5" y="926.3" textLength="126.5" lengthAdjust="spacingAndGlyphs">HYALURONIC ACID</text>
<text x="220.5" y="948.1" textLength="72.5" lengthAdjust="spacingAndGlyphs">COLLAGEN</text>
<text x="220.5" y="971.3" textLength="54.5" lengthAdjust="spacingAndGlyphs">ELASTIN</text>
</g>
<!-- Chart -->
<g fill="#dfe6f2">
<rect x="457" y="918.3" width="363" height="12.8"/>
<rect x="457" y="933" width="363" height="12.6"/>
<rect x="457" y="947.8" width="363" height="12.2"/>
<rect x="457" y="962.2" width="363" height="11.4"/>
</g>
<g stroke="#7390be" stroke-width="1.9" fill="none">
<path d="M456.2 902V974.2M577.2 902V974.2M699 902V974.2M820.6 902V974.2"/>
<path d="M455.5 974.2H821.3" stroke-width="1.2"/>
</g>
<path d="M460.5 924.3H488L520 931.5L577 942.5L640 952L699 958.8L760 963.5L818.5 967.6" fill="none" stroke="#7c8294" stroke-width="1.7" stroke-linecap="round" stroke-dasharray="0.1 4.7"/>
<g font-size="10.8" fill="#8b8e96">
<text x="492" y="910.8" textLength="49" lengthAdjust="spacingAndGlyphs">35 YEARS</text>
<text x="613" y="910.8" textLength="49" lengthAdjust="spacingAndGlyphs">45 YEARS</text>
<text x="735" y="910.8" textLength="49" lengthAdjust="spacingAndGlyphs">55 YEARS</text>
</g>
<text x="455" y="990.5" font-size="11.2" fill="#1f2759" stroke="#1f2759" stroke-width="0.2" textLength="195.5" lengthAdjust="spacingAndGlyphs">SKIN AGING AND COLLAGEN LEVELS</text>

</svg>
</body>
</html>
